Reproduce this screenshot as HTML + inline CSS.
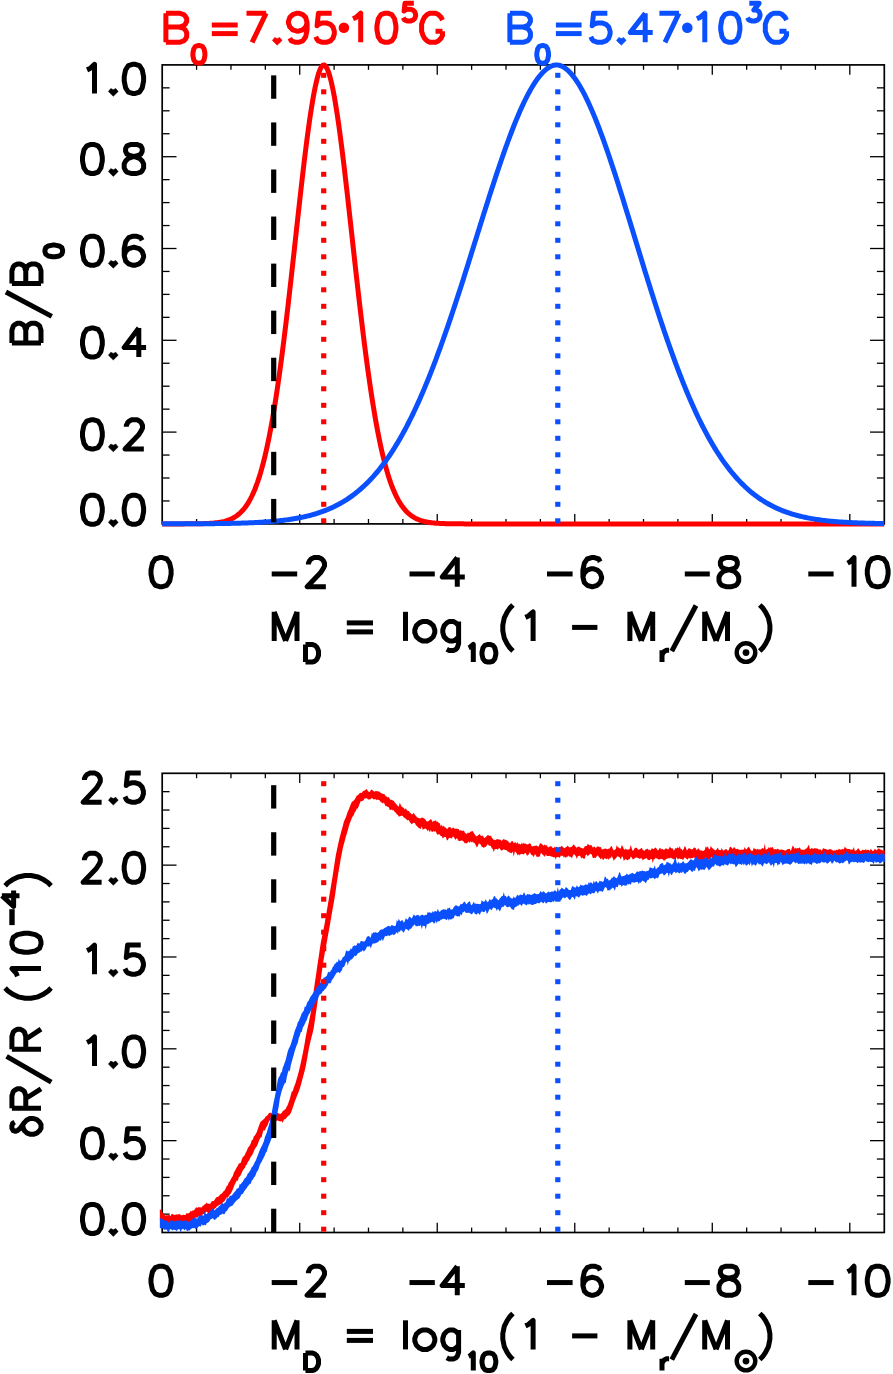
<!DOCTYPE html>
<html><head><meta charset="utf-8"><title>plot</title>
<style>
html,body{margin:0;padding:0;background:#fff;}
svg{display:block;}
</style></head>
<body>
<svg width="893" height="1374" viewBox="0 0 893 1374">
<rect x="0" y="0" width="893" height="1374" fill="#fff"/>
<clipPath id="ct"><rect x="159.2" y="61.400000000000006" width="725.8999999999999" height="466.0"/></clipPath>
<clipPath id="cb"><rect x="159.2" y="773.3" width="725.8999999999999" height="462.20000000000005"/></clipPath>
<rect x="162.2" y="64.9" width="722.0999999999999" height="459.0" fill="none" stroke="#000" stroke-width="1.7"/>
<line x1="196.58" y1="523.90" x2="196.58" y2="519.00" stroke="#000000" stroke-width="1.3" />
<line x1="196.58" y1="64.90" x2="196.58" y2="69.80" stroke="#000000" stroke-width="1.3" />
<line x1="230.96" y1="523.90" x2="230.96" y2="519.00" stroke="#000000" stroke-width="1.3" />
<line x1="230.96" y1="64.90" x2="230.96" y2="69.80" stroke="#000000" stroke-width="1.3" />
<line x1="265.34" y1="523.90" x2="265.34" y2="519.00" stroke="#000000" stroke-width="1.3" />
<line x1="265.34" y1="64.90" x2="265.34" y2="69.80" stroke="#000000" stroke-width="1.3" />
<line x1="299.72" y1="523.90" x2="299.72" y2="514.10" stroke="#000000" stroke-width="1.3" />
<line x1="299.72" y1="64.90" x2="299.72" y2="74.70" stroke="#000000" stroke-width="1.3" />
<line x1="334.10" y1="523.90" x2="334.10" y2="519.00" stroke="#000000" stroke-width="1.3" />
<line x1="334.10" y1="64.90" x2="334.10" y2="69.80" stroke="#000000" stroke-width="1.3" />
<line x1="368.48" y1="523.90" x2="368.48" y2="519.00" stroke="#000000" stroke-width="1.3" />
<line x1="368.48" y1="64.90" x2="368.48" y2="69.80" stroke="#000000" stroke-width="1.3" />
<line x1="402.86" y1="523.90" x2="402.86" y2="519.00" stroke="#000000" stroke-width="1.3" />
<line x1="402.86" y1="64.90" x2="402.86" y2="69.80" stroke="#000000" stroke-width="1.3" />
<line x1="437.24" y1="523.90" x2="437.24" y2="514.10" stroke="#000000" stroke-width="1.3" />
<line x1="437.24" y1="64.90" x2="437.24" y2="74.70" stroke="#000000" stroke-width="1.3" />
<line x1="471.62" y1="523.90" x2="471.62" y2="519.00" stroke="#000000" stroke-width="1.3" />
<line x1="471.62" y1="64.90" x2="471.62" y2="69.80" stroke="#000000" stroke-width="1.3" />
<line x1="506.00" y1="523.90" x2="506.00" y2="519.00" stroke="#000000" stroke-width="1.3" />
<line x1="506.00" y1="64.90" x2="506.00" y2="69.80" stroke="#000000" stroke-width="1.3" />
<line x1="540.38" y1="523.90" x2="540.38" y2="519.00" stroke="#000000" stroke-width="1.3" />
<line x1="540.38" y1="64.90" x2="540.38" y2="69.80" stroke="#000000" stroke-width="1.3" />
<line x1="574.76" y1="523.90" x2="574.76" y2="514.10" stroke="#000000" stroke-width="1.3" />
<line x1="574.76" y1="64.90" x2="574.76" y2="74.70" stroke="#000000" stroke-width="1.3" />
<line x1="609.14" y1="523.90" x2="609.14" y2="519.00" stroke="#000000" stroke-width="1.3" />
<line x1="609.14" y1="64.90" x2="609.14" y2="69.80" stroke="#000000" stroke-width="1.3" />
<line x1="643.52" y1="523.90" x2="643.52" y2="519.00" stroke="#000000" stroke-width="1.3" />
<line x1="643.52" y1="64.90" x2="643.52" y2="69.80" stroke="#000000" stroke-width="1.3" />
<line x1="677.90" y1="523.90" x2="677.90" y2="519.00" stroke="#000000" stroke-width="1.3" />
<line x1="677.90" y1="64.90" x2="677.90" y2="69.80" stroke="#000000" stroke-width="1.3" />
<line x1="712.28" y1="523.90" x2="712.28" y2="514.10" stroke="#000000" stroke-width="1.3" />
<line x1="712.28" y1="64.90" x2="712.28" y2="74.70" stroke="#000000" stroke-width="1.3" />
<line x1="746.66" y1="523.90" x2="746.66" y2="519.00" stroke="#000000" stroke-width="1.3" />
<line x1="746.66" y1="64.90" x2="746.66" y2="69.80" stroke="#000000" stroke-width="1.3" />
<line x1="781.04" y1="523.90" x2="781.04" y2="519.00" stroke="#000000" stroke-width="1.3" />
<line x1="781.04" y1="64.90" x2="781.04" y2="69.80" stroke="#000000" stroke-width="1.3" />
<line x1="815.42" y1="523.90" x2="815.42" y2="519.00" stroke="#000000" stroke-width="1.3" />
<line x1="815.42" y1="64.90" x2="815.42" y2="69.80" stroke="#000000" stroke-width="1.3" />
<line x1="849.80" y1="523.90" x2="849.80" y2="514.10" stroke="#000000" stroke-width="1.3" />
<line x1="849.80" y1="64.90" x2="849.80" y2="74.70" stroke="#000000" stroke-width="1.3" />
<line x1="162.20" y1="500.95" x2="169.60" y2="500.95" stroke="#000000" stroke-width="1.3" />
<line x1="884.30" y1="500.95" x2="876.90" y2="500.95" stroke="#000000" stroke-width="1.3" />
<line x1="162.20" y1="478.00" x2="169.60" y2="478.00" stroke="#000000" stroke-width="1.3" />
<line x1="884.30" y1="478.00" x2="876.90" y2="478.00" stroke="#000000" stroke-width="1.3" />
<line x1="162.20" y1="455.05" x2="169.60" y2="455.05" stroke="#000000" stroke-width="1.3" />
<line x1="884.30" y1="455.05" x2="876.90" y2="455.05" stroke="#000000" stroke-width="1.3" />
<line x1="162.20" y1="432.10" x2="176.50" y2="432.10" stroke="#000000" stroke-width="1.3" />
<line x1="884.30" y1="432.10" x2="870.00" y2="432.10" stroke="#000000" stroke-width="1.3" />
<line x1="162.20" y1="409.15" x2="169.60" y2="409.15" stroke="#000000" stroke-width="1.3" />
<line x1="884.30" y1="409.15" x2="876.90" y2="409.15" stroke="#000000" stroke-width="1.3" />
<line x1="162.20" y1="386.20" x2="169.60" y2="386.20" stroke="#000000" stroke-width="1.3" />
<line x1="884.30" y1="386.20" x2="876.90" y2="386.20" stroke="#000000" stroke-width="1.3" />
<line x1="162.20" y1="363.25" x2="169.60" y2="363.25" stroke="#000000" stroke-width="1.3" />
<line x1="884.30" y1="363.25" x2="876.90" y2="363.25" stroke="#000000" stroke-width="1.3" />
<line x1="162.20" y1="340.30" x2="176.50" y2="340.30" stroke="#000000" stroke-width="1.3" />
<line x1="884.30" y1="340.30" x2="870.00" y2="340.30" stroke="#000000" stroke-width="1.3" />
<line x1="162.20" y1="317.35" x2="169.60" y2="317.35" stroke="#000000" stroke-width="1.3" />
<line x1="884.30" y1="317.35" x2="876.90" y2="317.35" stroke="#000000" stroke-width="1.3" />
<line x1="162.20" y1="294.40" x2="169.60" y2="294.40" stroke="#000000" stroke-width="1.3" />
<line x1="884.30" y1="294.40" x2="876.90" y2="294.40" stroke="#000000" stroke-width="1.3" />
<line x1="162.20" y1="271.45" x2="169.60" y2="271.45" stroke="#000000" stroke-width="1.3" />
<line x1="884.30" y1="271.45" x2="876.90" y2="271.45" stroke="#000000" stroke-width="1.3" />
<line x1="162.20" y1="248.50" x2="176.50" y2="248.50" stroke="#000000" stroke-width="1.3" />
<line x1="884.30" y1="248.50" x2="870.00" y2="248.50" stroke="#000000" stroke-width="1.3" />
<line x1="162.20" y1="225.55" x2="169.60" y2="225.55" stroke="#000000" stroke-width="1.3" />
<line x1="884.30" y1="225.55" x2="876.90" y2="225.55" stroke="#000000" stroke-width="1.3" />
<line x1="162.20" y1="202.60" x2="169.60" y2="202.60" stroke="#000000" stroke-width="1.3" />
<line x1="884.30" y1="202.60" x2="876.90" y2="202.60" stroke="#000000" stroke-width="1.3" />
<line x1="162.20" y1="179.65" x2="169.60" y2="179.65" stroke="#000000" stroke-width="1.3" />
<line x1="884.30" y1="179.65" x2="876.90" y2="179.65" stroke="#000000" stroke-width="1.3" />
<line x1="162.20" y1="156.70" x2="176.50" y2="156.70" stroke="#000000" stroke-width="1.3" />
<line x1="884.30" y1="156.70" x2="870.00" y2="156.70" stroke="#000000" stroke-width="1.3" />
<line x1="162.20" y1="133.75" x2="169.60" y2="133.75" stroke="#000000" stroke-width="1.3" />
<line x1="884.30" y1="133.75" x2="876.90" y2="133.75" stroke="#000000" stroke-width="1.3" />
<line x1="162.20" y1="110.80" x2="169.60" y2="110.80" stroke="#000000" stroke-width="1.3" />
<line x1="884.30" y1="110.80" x2="876.90" y2="110.80" stroke="#000000" stroke-width="1.3" />
<line x1="162.20" y1="87.85" x2="169.60" y2="87.85" stroke="#000000" stroke-width="1.3" />
<line x1="884.30" y1="87.85" x2="876.90" y2="87.85" stroke="#000000" stroke-width="1.3" />
<polyline clip-path="url(#ct)" points="162.20,523.90 163.65,523.90 165.09,523.90 166.54,523.90 167.99,523.90 169.43,523.90 170.88,523.90 172.33,523.90 173.77,523.89 175.22,523.89 176.67,523.89 178.12,523.89 179.56,523.89 181.01,523.88 182.46,523.88 183.90,523.88 185.35,523.87 186.80,523.87 188.24,523.86 189.69,523.85 191.14,523.84 192.58,523.83 194.03,523.82 195.48,523.80 196.92,523.78 198.37,523.76 199.82,523.73 201.27,523.69 202.71,523.66 204.16,523.61 205.61,523.56 207.05,523.50 208.50,523.42 209.95,523.34 211.39,523.24 212.84,523.13 214.29,523.00 215.73,522.84 217.18,522.67 218.63,522.47 220.07,522.24 221.52,521.97 222.97,521.67 224.41,521.32 225.86,520.93 227.31,520.48 228.76,519.97 230.20,519.39 231.65,518.74 233.10,518.01 234.54,517.18 235.99,516.25 237.44,515.22 238.88,514.06 240.33,512.76 241.78,511.33 243.22,509.73 244.67,507.96 246.12,506.00 247.56,503.84 249.01,501.46 250.46,498.86 251.90,496.00 253.35,492.87 254.80,489.47 256.25,485.76 257.69,481.74 259.14,477.38 260.59,472.68 262.03,467.60 263.48,462.15 264.93,456.31 266.37,450.05 267.82,443.38 269.27,436.28 270.71,428.75 272.16,420.77 273.61,412.35 275.05,403.48 276.50,394.17 277.95,384.42 279.40,374.25 280.84,363.66 282.29,352.66 283.74,341.29 285.18,329.57 286.63,317.51 288.08,305.17 289.52,292.57 290.97,279.75 292.42,266.76 293.86,253.65 295.31,240.47 296.76,227.29 298.20,214.15 299.65,201.13 301.10,188.28 302.54,175.69 303.99,163.41 305.44,151.52 306.89,140.10 308.33,129.21 309.78,118.93 311.23,109.32 312.67,100.48 314.12,92.45 315.57,85.31 317.01,79.13 318.46,73.96 319.91,69.88 321.35,66.96 322.80,65.27 324.25,64.99 325.69,66.18 327.14,68.64 328.59,72.27 330.04,76.99 331.48,82.74 332.93,89.46 334.38,97.08 335.82,105.55 337.27,114.78 338.72,124.71 340.16,135.28 341.61,146.41 343.06,158.02 344.50,170.05 345.95,182.43 347.40,195.08 348.84,207.95 350.29,220.95 351.74,234.04 353.18,247.14 354.63,260.20 356.08,273.17 357.53,286.00 358.97,298.63 360.42,311.04 361.87,323.17 363.31,335.00 364.76,346.49 366.21,357.62 367.65,368.37 369.10,378.71 370.55,388.64 371.99,398.14 373.44,407.21 374.89,415.83 376.33,424.02 377.78,431.77 379.23,439.09 380.67,445.98 382.12,452.45 383.57,458.51 385.02,464.17 386.46,469.45 387.91,474.36 389.36,478.91 390.80,483.12 392.25,487.01 393.70,490.60 395.14,493.89 396.59,496.91 398.04,499.67 399.48,502.19 400.93,504.49 402.38,506.57 403.82,508.46 405.27,510.17 406.72,511.72 408.17,513.11 409.61,514.36 411.06,515.48 412.51,516.48 413.95,517.38 415.40,518.18 416.85,518.89 418.29,519.52 419.74,520.08 421.19,520.57 422.63,521.00 424.08,521.39 425.53,521.72 426.97,522.02 428.42,522.28 429.87,522.50 431.31,522.70 432.76,522.87 434.21,523.02 435.66,523.14 437.10,523.25 438.55,523.35 440.00,523.43 441.44,523.50 442.89,523.56 444.34,523.62 445.78,523.66 447.23,523.70 448.68,523.73 450.12,523.76 451.57,523.78 453.02,523.80 454.46,523.82 455.91,523.83 457.36,523.84 458.81,523.85 460.25,523.86 461.70,523.87 463.15,523.87 464.59,523.88 466.04,523.88 467.49,523.88 468.93,523.89 470.38,523.89 471.83,523.89 473.27,523.89 474.72,523.89 476.17,523.90 477.61,523.90 479.06,523.90 480.51,523.90 481.95,523.90 483.40,523.90 484.85,523.90 486.30,523.90 487.74,523.90 489.19,523.90 490.64,523.90 492.08,523.90 493.53,523.90 494.98,523.90 496.42,523.90 497.87,523.90 499.32,523.90 500.76,523.90 502.21,523.90 503.66,523.90 505.10,523.90 506.55,523.90 508.00,523.90 509.44,523.90 510.89,523.90 512.34,523.90 513.79,523.90 515.23,523.90 516.68,523.90 518.13,523.90 519.57,523.90 521.02,523.90 522.47,523.90 523.91,523.90 525.36,523.90 526.81,523.90 528.25,523.90 529.70,523.90 531.15,523.90 532.59,523.90 534.04,523.90 535.49,523.90 536.94,523.90 538.38,523.90 539.83,523.90 541.28,523.90 542.72,523.90 544.17,523.90 545.62,523.90 547.06,523.90 548.51,523.90 549.96,523.90 551.40,523.90 552.85,523.90 554.30,523.90 555.74,523.90 557.19,523.90 558.64,523.90 560.08,523.90 561.53,523.90 562.98,523.90 564.43,523.90 565.87,523.90 567.32,523.90 568.77,523.90 570.21,523.90 571.66,523.90 573.11,523.90 574.55,523.90 576.00,523.90 577.45,523.90 578.89,523.90 580.34,523.90 581.79,523.90 583.23,523.90 584.68,523.90 586.13,523.90 587.57,523.90 589.02,523.90 590.47,523.90 591.92,523.90 593.36,523.90 594.81,523.90 596.26,523.90 597.70,523.90 599.15,523.90 600.60,523.90 602.04,523.90 603.49,523.90 604.94,523.90 606.38,523.90 607.83,523.90 609.28,523.90 610.72,523.90 612.17,523.90 613.62,523.90 615.07,523.90 616.51,523.90 617.96,523.90 619.41,523.90 620.85,523.90 622.30,523.90 623.75,523.90 625.19,523.90 626.64,523.90 628.09,523.90 629.53,523.90 630.98,523.90 632.43,523.90 633.87,523.90 635.32,523.90 636.77,523.90 638.21,523.90 639.66,523.90 641.11,523.90 642.56,523.90 644.00,523.90 645.45,523.90 646.90,523.90 648.34,523.90 649.79,523.90 651.24,523.90 652.68,523.90 654.13,523.90 655.58,523.90 657.02,523.90 658.47,523.90 659.92,523.90 661.36,523.90 662.81,523.90 664.26,523.90 665.71,523.90 667.15,523.90 668.60,523.90 670.05,523.90 671.49,523.90 672.94,523.90 674.39,523.90 675.83,523.90 677.28,523.90 678.73,523.90 680.17,523.90 681.62,523.90 683.07,523.90 684.51,523.90 685.96,523.90 687.41,523.90 688.85,523.90 690.30,523.90 691.75,523.90 693.20,523.90 694.64,523.90 696.09,523.90 697.54,523.90 698.98,523.90 700.43,523.90 701.88,523.90 703.32,523.90 704.77,523.90 706.22,523.90 707.66,523.90 709.11,523.90 710.56,523.90 712.00,523.90 713.45,523.90 714.90,523.90 716.34,523.90 717.79,523.90 719.24,523.90 720.69,523.90 722.13,523.90 723.58,523.90 725.03,523.90 726.47,523.90 727.92,523.90 729.37,523.90 730.81,523.90 732.26,523.90 733.71,523.90 735.15,523.90 736.60,523.90 738.05,523.90 739.49,523.90 740.94,523.90 742.39,523.90 743.84,523.90 745.28,523.90 746.73,523.90 748.18,523.90 749.62,523.90 751.07,523.90 752.52,523.90 753.96,523.90 755.41,523.90 756.86,523.90 758.30,523.90 759.75,523.90 761.20,523.90 762.64,523.90 764.09,523.90 765.54,523.90 766.98,523.90 768.43,523.90 769.88,523.90 771.33,523.90 772.77,523.90 774.22,523.90 775.67,523.90 777.11,523.90 778.56,523.90 780.01,523.90 781.45,523.90 782.90,523.90 784.35,523.90 785.79,523.90 787.24,523.90 788.69,523.90 790.13,523.90 791.58,523.90 793.03,523.90 794.48,523.90 795.92,523.90 797.37,523.90 798.82,523.90 800.26,523.90 801.71,523.90 803.16,523.90 804.60,523.90 806.05,523.90 807.50,523.90 808.94,523.90 810.39,523.90 811.84,523.90 813.28,523.90 814.73,523.90 816.18,523.90 817.62,523.90 819.07,523.90 820.52,523.90 821.97,523.90 823.41,523.90 824.86,523.90 826.31,523.90 827.75,523.90 829.20,523.90 830.65,523.90 832.09,523.90 833.54,523.90 834.99,523.90 836.43,523.90 837.88,523.90 839.33,523.90 840.77,523.90 842.22,523.90 843.67,523.90 845.11,523.90 846.56,523.90 848.01,523.90 849.46,523.90 850.90,523.90 852.35,523.90 853.80,523.90 855.24,523.90 856.69,523.90 858.14,523.90 859.58,523.90 861.03,523.90 862.48,523.90 863.92,523.90 865.37,523.90 866.82,523.90 868.26,523.90 869.71,523.90 871.16,523.90 872.61,523.90 874.05,523.90 875.50,523.90 876.95,523.90 878.39,523.90 879.84,523.90 881.29,523.90 882.73,523.90 884.18,523.90" fill="none" stroke="#ff0000" stroke-width="5" stroke-linejoin="round"/>
<polyline clip-path="url(#ct)" points="162.20,523.87 163.65,523.87 165.09,523.87 166.54,523.87 167.99,523.86 169.43,523.86 170.88,523.86 172.33,523.86 173.77,523.85 175.22,523.85 176.67,523.85 178.12,523.84 179.56,523.84 181.01,523.84 182.46,523.83 183.90,523.83 185.35,523.82 186.80,523.82 188.24,523.81 189.69,523.81 191.14,523.80 192.58,523.79 194.03,523.79 195.48,523.78 196.92,523.77 198.37,523.76 199.82,523.75 201.27,523.74 202.71,523.73 204.16,523.72 205.61,523.71 207.05,523.70 208.50,523.69 209.95,523.67 211.39,523.66 212.84,523.65 214.29,523.63 215.73,523.61 217.18,523.60 218.63,523.58 220.07,523.56 221.52,523.54 222.97,523.52 224.41,523.49 225.86,523.47 227.31,523.44 228.76,523.42 230.20,523.39 231.65,523.36 233.10,523.32 234.54,523.29 235.99,523.26 237.44,523.22 238.88,523.18 240.33,523.14 241.78,523.09 243.22,523.05 244.67,523.00 246.12,522.95 247.56,522.90 249.01,522.84 250.46,522.78 251.90,522.72 253.35,522.65 254.80,522.59 256.25,522.51 257.69,522.44 259.14,522.36 260.59,522.28 262.03,522.19 263.48,522.10 264.93,522.00 266.37,521.90 267.82,521.80 269.27,521.69 270.71,521.57 272.16,521.45 273.61,521.32 275.05,521.19 276.50,521.05 277.95,520.90 279.40,520.75 280.84,520.59 282.29,520.43 283.74,520.25 285.18,520.07 286.63,519.88 288.08,519.68 289.52,519.48 290.97,519.26 292.42,519.04 293.86,518.80 295.31,518.55 296.76,518.30 298.20,518.03 299.65,517.75 301.10,517.46 302.54,517.16 303.99,516.85 305.44,516.52 306.89,516.18 308.33,515.83 309.78,515.46 311.23,515.08 312.67,514.68 314.12,514.26 315.57,513.83 317.01,513.39 318.46,512.92 319.91,512.44 321.35,511.94 322.80,511.42 324.25,510.88 325.69,510.32 327.14,509.74 328.59,509.14 330.04,508.52 331.48,507.87 332.93,507.20 334.38,506.51 335.82,505.79 337.27,505.05 338.72,504.29 340.16,503.49 341.61,502.67 343.06,501.82 344.50,500.95 345.95,500.04 347.40,499.10 348.84,498.14 350.29,497.14 351.74,496.11 353.18,495.05 354.63,493.95 356.08,492.82 357.53,491.65 358.97,490.45 360.42,489.22 361.87,487.94 363.31,486.63 364.76,485.28 366.21,483.89 367.65,482.46 369.10,480.99 370.55,479.48 371.99,477.92 373.44,476.32 374.89,474.68 376.33,473.00 377.78,471.27 379.23,469.49 380.67,467.67 382.12,465.80 383.57,463.88 385.02,461.92 386.46,459.91 387.91,457.84 389.36,455.73 390.80,453.57 392.25,451.35 393.70,449.09 395.14,446.77 396.59,444.40 398.04,441.98 399.48,439.50 400.93,436.98 402.38,434.39 403.82,431.76 405.27,429.07 406.72,426.32 408.17,423.52 409.61,420.67 411.06,417.76 412.51,414.79 413.95,411.77 415.40,408.70 416.85,405.57 418.29,402.39 419.74,399.15 421.19,395.86 422.63,392.51 424.08,389.11 425.53,385.65 426.97,382.15 428.42,378.59 429.87,374.97 431.31,371.31 432.76,367.60 434.21,363.83 435.66,360.02 437.10,356.15 438.55,352.24 440.00,348.29 441.44,344.28 442.89,340.24 444.34,336.15 445.78,332.01 447.23,327.84 448.68,323.63 450.12,319.37 451.57,315.08 453.02,310.76 454.46,306.40 455.91,302.01 457.36,297.59 458.81,293.14 460.25,288.66 461.70,284.16 463.15,279.64 464.59,275.09 466.04,270.53 467.49,265.95 468.93,261.35 470.38,256.74 471.83,252.12 473.27,247.50 474.72,242.87 476.17,238.24 477.61,233.60 479.06,228.97 480.51,224.35 481.95,219.73 483.40,215.12 484.85,210.53 486.30,205.95 487.74,201.39 489.19,196.85 490.64,192.34 492.08,187.86 493.53,183.41 494.98,178.99 496.42,174.60 497.87,170.26 499.32,165.96 500.76,161.71 502.21,157.51 503.66,153.36 505.10,149.26 506.55,145.22 508.00,141.25 509.44,137.34 510.89,133.50 512.34,129.73 513.79,126.03 515.23,122.42 516.68,118.88 518.13,115.43 519.57,112.06 521.02,108.79 522.47,105.61 523.91,102.52 525.36,99.53 526.81,96.65 528.25,93.87 529.70,91.20 531.15,88.64 532.59,86.20 534.04,83.87 535.49,81.66 536.94,79.57 538.38,77.61 539.83,75.78 541.28,74.08 542.72,72.51 544.17,71.07 545.62,69.78 547.06,68.63 548.51,67.63 549.96,66.77 551.40,66.07 552.85,65.52 554.30,65.14 555.74,64.93 557.19,64.92 558.64,65.12 560.08,65.51 561.53,66.06 562.98,66.78 564.43,67.66 565.87,68.70 567.32,69.89 568.77,71.24 570.21,72.72 571.66,74.35 573.11,76.12 574.55,78.03 576.00,80.07 577.45,82.24 578.89,84.54 580.34,86.97 581.79,89.52 583.23,92.18 584.68,94.96 586.13,97.86 587.57,100.86 589.02,103.97 590.47,107.18 591.92,110.49 593.36,113.90 594.81,117.40 596.26,121.00 597.70,124.67 599.15,128.43 600.60,132.28 602.04,136.19 603.49,140.18 604.94,144.24 606.38,148.36 607.83,152.55 609.28,156.80 610.72,161.10 612.17,165.46 613.62,169.86 615.07,174.31 616.51,178.80 617.96,183.33 619.41,187.90 620.85,192.50 622.30,197.12 623.75,201.78 625.19,206.45 626.64,211.15 628.09,215.86 629.53,220.59 630.98,225.33 632.43,230.07 633.87,234.82 635.32,239.57 636.77,244.32 638.21,249.07 639.66,253.81 641.11,258.54 642.56,263.27 644.00,267.97 645.45,272.66 646.90,277.33 648.34,281.98 649.79,286.61 651.24,291.21 652.68,295.79 654.13,300.33 655.58,304.85 657.02,309.33 658.47,313.78 659.92,318.18 661.36,322.56 662.81,326.89 664.26,331.18 665.71,335.42 667.15,339.62 668.60,343.78 670.05,347.89 671.49,351.95 672.94,355.96 674.39,359.93 675.83,363.84 677.28,367.70 678.73,371.51 680.17,375.26 681.62,378.96 683.07,382.60 684.51,386.19 685.96,389.73 687.41,393.20 688.85,396.62 690.30,399.99 691.75,403.29 693.20,406.54 694.64,409.73 696.09,412.86 697.54,415.94 698.98,418.96 700.43,421.92 701.88,424.82 703.32,427.66 704.77,430.45 706.22,433.18 707.66,435.85 709.11,438.47 710.56,441.03 712.00,443.53 713.45,445.98 714.90,448.38 716.34,450.71 717.79,453.00 719.24,455.23 720.69,457.41 722.13,459.53 723.58,461.61 725.03,463.63 726.47,465.60 727.92,467.52 729.37,469.39 730.81,471.21 732.26,472.99 733.71,474.72 735.15,476.40 736.60,478.03 738.05,479.62 739.49,481.17 740.94,482.67 742.39,484.13 743.84,485.55 745.28,486.93 746.73,488.26 748.18,489.56 749.62,490.82 751.07,492.04 752.52,493.22 753.96,494.37 755.41,495.48 756.86,496.55 758.30,497.60 759.75,498.60 761.20,499.58 762.64,500.52 764.09,501.44 765.54,502.32 766.98,503.17 768.43,504.00 769.88,504.79 771.33,505.56 772.77,506.30 774.22,507.02 775.67,507.71 777.11,508.38 778.56,509.02 780.01,509.64 781.45,510.24 782.90,510.82 784.35,511.37 785.79,511.91 787.24,512.42 788.69,512.92 790.13,513.39 791.58,513.85 793.03,514.29 794.48,514.71 795.92,515.12 797.37,515.51 798.82,515.89 800.26,516.25 801.71,516.59 803.16,516.93 804.60,517.25 806.05,517.55 807.50,517.84 808.94,518.13 810.39,518.40 811.84,518.65 813.28,518.90 814.73,519.14 816.18,519.36 817.62,519.58 819.07,519.79 820.52,519.99 821.97,520.18 823.41,520.36 824.86,520.53 826.31,520.70 827.75,520.86 829.20,521.01 830.65,521.15 832.09,521.29 833.54,521.42 834.99,521.55 836.43,521.67 837.88,521.78 839.33,521.89 840.77,521.99 842.22,522.09 843.67,522.19 845.11,522.27 846.56,522.36 848.01,522.44 849.46,522.52 850.90,522.59 852.35,522.66 853.80,522.73 855.24,522.79 856.69,522.85 858.14,522.91 859.58,522.96 861.03,523.01 862.48,523.06 863.92,523.11 865.37,523.15 866.82,523.19 868.26,523.23 869.71,523.27 871.16,523.31 872.61,523.34 874.05,523.37 875.50,523.40 876.95,523.43 878.39,523.46 879.84,523.48 881.29,523.51 882.73,523.53 884.18,523.55" fill="none" stroke="#0a50ff" stroke-width="5" stroke-linejoin="round"/>
<line x1="273.70" y1="522.30" x2="273.70" y2="498.90" stroke="#000000" stroke-width="5.2" />
<line x1="273.70" y1="475.24" x2="273.70" y2="451.84" stroke="#000000" stroke-width="5.2" />
<line x1="273.70" y1="428.18" x2="273.70" y2="404.78" stroke="#000000" stroke-width="5.2" />
<line x1="273.70" y1="381.12" x2="273.70" y2="357.72" stroke="#000000" stroke-width="5.2" />
<line x1="273.70" y1="334.06" x2="273.70" y2="310.66" stroke="#000000" stroke-width="5.2" />
<line x1="273.70" y1="287.00" x2="273.70" y2="263.60" stroke="#000000" stroke-width="5.2" />
<line x1="273.70" y1="239.94" x2="273.70" y2="216.54" stroke="#000000" stroke-width="5.2" />
<line x1="273.70" y1="192.88" x2="273.70" y2="169.48" stroke="#000000" stroke-width="5.2" />
<line x1="273.70" y1="145.82" x2="273.70" y2="122.42" stroke="#000000" stroke-width="5.2" />
<line x1="273.70" y1="98.76" x2="273.70" y2="75.36" stroke="#000000" stroke-width="5.2" />
<rect x="321.10" y="72.80" width="5.2" height="5" fill="#ff0000"/>
<rect x="321.10" y="89.30" width="5.2" height="5" fill="#ff0000"/>
<rect x="321.10" y="105.80" width="5.2" height="5" fill="#ff0000"/>
<rect x="321.10" y="122.30" width="5.2" height="5" fill="#ff0000"/>
<rect x="321.10" y="138.80" width="5.2" height="5" fill="#ff0000"/>
<rect x="321.10" y="155.30" width="5.2" height="5" fill="#ff0000"/>
<rect x="321.10" y="171.80" width="5.2" height="5" fill="#ff0000"/>
<rect x="321.10" y="188.30" width="5.2" height="5" fill="#ff0000"/>
<rect x="321.10" y="204.80" width="5.2" height="5" fill="#ff0000"/>
<rect x="321.10" y="221.30" width="5.2" height="5" fill="#ff0000"/>
<rect x="321.10" y="237.80" width="5.2" height="5" fill="#ff0000"/>
<rect x="321.10" y="254.30" width="5.2" height="5" fill="#ff0000"/>
<rect x="321.10" y="270.80" width="5.2" height="5" fill="#ff0000"/>
<rect x="321.10" y="287.30" width="5.2" height="5" fill="#ff0000"/>
<rect x="321.10" y="303.80" width="5.2" height="5" fill="#ff0000"/>
<rect x="321.10" y="320.30" width="5.2" height="5" fill="#ff0000"/>
<rect x="321.10" y="336.80" width="5.2" height="5" fill="#ff0000"/>
<rect x="321.10" y="353.30" width="5.2" height="5" fill="#ff0000"/>
<rect x="321.10" y="369.80" width="5.2" height="5" fill="#ff0000"/>
<rect x="321.10" y="386.30" width="5.2" height="5" fill="#ff0000"/>
<rect x="321.10" y="402.80" width="5.2" height="5" fill="#ff0000"/>
<rect x="321.10" y="419.30" width="5.2" height="5" fill="#ff0000"/>
<rect x="321.10" y="435.80" width="5.2" height="5" fill="#ff0000"/>
<rect x="321.10" y="452.30" width="5.2" height="5" fill="#ff0000"/>
<rect x="321.10" y="468.80" width="5.2" height="5" fill="#ff0000"/>
<rect x="321.10" y="485.30" width="5.2" height="5" fill="#ff0000"/>
<rect x="321.10" y="501.80" width="5.2" height="5" fill="#ff0000"/>
<rect x="321.10" y="518.30" width="5.2" height="5" fill="#ff0000"/>
<rect x="555.20" y="72.80" width="5.2" height="5" fill="#0a50ff"/>
<rect x="555.20" y="89.30" width="5.2" height="5" fill="#0a50ff"/>
<rect x="555.20" y="105.80" width="5.2" height="5" fill="#0a50ff"/>
<rect x="555.20" y="122.30" width="5.2" height="5" fill="#0a50ff"/>
<rect x="555.20" y="138.80" width="5.2" height="5" fill="#0a50ff"/>
<rect x="555.20" y="155.30" width="5.2" height="5" fill="#0a50ff"/>
<rect x="555.20" y="171.80" width="5.2" height="5" fill="#0a50ff"/>
<rect x="555.20" y="188.30" width="5.2" height="5" fill="#0a50ff"/>
<rect x="555.20" y="204.80" width="5.2" height="5" fill="#0a50ff"/>
<rect x="555.20" y="221.30" width="5.2" height="5" fill="#0a50ff"/>
<rect x="555.20" y="237.80" width="5.2" height="5" fill="#0a50ff"/>
<rect x="555.20" y="254.30" width="5.2" height="5" fill="#0a50ff"/>
<rect x="555.20" y="270.80" width="5.2" height="5" fill="#0a50ff"/>
<rect x="555.20" y="287.30" width="5.2" height="5" fill="#0a50ff"/>
<rect x="555.20" y="303.80" width="5.2" height="5" fill="#0a50ff"/>
<rect x="555.20" y="320.30" width="5.2" height="5" fill="#0a50ff"/>
<rect x="555.20" y="336.80" width="5.2" height="5" fill="#0a50ff"/>
<rect x="555.20" y="353.30" width="5.2" height="5" fill="#0a50ff"/>
<rect x="555.20" y="369.80" width="5.2" height="5" fill="#0a50ff"/>
<rect x="555.20" y="386.30" width="5.2" height="5" fill="#0a50ff"/>
<rect x="555.20" y="402.80" width="5.2" height="5" fill="#0a50ff"/>
<rect x="555.20" y="419.30" width="5.2" height="5" fill="#0a50ff"/>
<rect x="555.20" y="435.80" width="5.2" height="5" fill="#0a50ff"/>
<rect x="555.20" y="452.30" width="5.2" height="5" fill="#0a50ff"/>
<rect x="555.20" y="468.80" width="5.2" height="5" fill="#0a50ff"/>
<rect x="555.20" y="485.30" width="5.2" height="5" fill="#0a50ff"/>
<rect x="555.20" y="501.80" width="5.2" height="5" fill="#0a50ff"/>
<rect x="555.20" y="518.30" width="5.2" height="5" fill="#0a50ff"/>
<path d="M87.05,69.86 L90.03,68.47 L94.50,64.31 L94.50,93.40" fill="none" stroke="#000000" stroke-width="5.0" stroke-linejoin="round"/>
<path d="M113.30,96.30 L108.40,91.50 L110.80,88.50 L113.30,89.70 L115.80,88.50 L118.20,91.50 Z" fill="#000000" stroke="#000000" stroke-width="0.5" stroke-linejoin="round"/>
<path d="M132.51,64.31 L128.36,65.70 L125.59,69.86 L124.20,76.78 L124.20,80.94 L125.59,87.86 L128.36,92.02 L132.51,93.40 L135.29,93.40 L139.44,92.02 L142.21,87.86 L143.60,80.94 L143.60,76.78 L142.21,69.86 L139.44,65.70 L135.29,64.31 Z" fill="none" stroke="#000000" stroke-width="5.0" stroke-linejoin="round"/>
<path d="M90.99,144.41 L86.74,145.80 L83.91,149.95 L82.50,156.88 L82.50,161.03 L83.91,167.96 L86.74,172.11 L90.99,173.50 L93.81,173.50 L98.06,172.11 L100.89,167.96 L102.30,161.03 L102.30,156.88 L100.89,149.95 L98.06,145.80 L93.81,144.41 Z" fill="none" stroke="#000000" stroke-width="5.0" stroke-linejoin="round"/>
<path d="M113.30,176.40 L108.40,171.60 L110.80,168.60 L113.30,169.80 L115.80,168.60 L118.20,171.60 Z" fill="#000000" stroke="#000000" stroke-width="0.5" stroke-linejoin="round"/>
<path d="M131.13,144.41 L126.97,145.80 L125.59,148.57 L125.59,151.34 L126.97,154.11 L129.74,155.49 L135.29,156.88 L139.44,158.26 L142.21,161.03 L143.60,163.80 L143.60,167.96 L142.21,170.73 L140.83,172.11 L136.67,173.50 L131.13,173.50 L126.97,172.11 L125.59,170.73 L124.20,167.96 L124.20,163.80 L125.59,161.03 L128.36,158.26 L132.51,156.88 L138.06,155.49 L140.83,154.11 L142.21,151.34 L142.21,148.57 L140.83,145.80 L136.67,144.41 Z" fill="none" stroke="#000000" stroke-width="5.0" stroke-linejoin="round"/>
<path d="M90.99,236.22 L86.74,237.60 L83.91,241.75 L82.50,248.68 L82.50,252.84 L83.91,259.76 L86.74,263.92 L90.99,265.30 L93.81,265.30 L98.06,263.92 L100.89,259.76 L102.30,252.84 L102.30,248.68 L100.89,241.75 L98.06,237.60 L93.81,236.22 Z" fill="none" stroke="#000000" stroke-width="5.0" stroke-linejoin="round"/>
<path d="M113.30,268.20 L108.40,263.40 L110.80,260.40 L113.30,261.60 L115.80,260.40 L118.20,263.40 Z" fill="#000000" stroke="#000000" stroke-width="0.5" stroke-linejoin="round"/>
<path d="M142.11,240.37 L140.62,237.60 L136.14,236.22 L133.15,236.22 L128.68,237.60 L125.69,241.75 L124.20,248.68 L124.20,255.61 L125.69,261.15 L128.68,263.92 L133.15,265.30 L134.65,265.30 L139.12,263.92 L142.11,261.15 L143.60,256.99 L143.60,255.61 L142.11,251.45 L139.12,248.68 L134.65,247.30 L133.15,247.30 L128.68,248.68 L125.69,251.45 L124.20,255.61" fill="none" stroke="#000000" stroke-width="5.0" stroke-linejoin="round"/>
<path d="M90.99,328.01 L86.74,329.40 L83.91,333.55 L82.50,340.48 L82.50,344.63 L83.91,351.56 L86.74,355.71 L90.99,357.10 L93.81,357.10 L98.06,355.71 L100.89,351.56 L102.30,344.63 L102.30,340.48 L100.89,333.55 L98.06,329.40 L93.81,328.01 Z" fill="none" stroke="#000000" stroke-width="5.0" stroke-linejoin="round"/>
<path d="M113.30,360.00 L108.40,355.20 L110.80,352.20 L113.30,353.40 L115.80,352.20 L118.20,355.20 Z" fill="#000000" stroke="#000000" stroke-width="0.5" stroke-linejoin="round"/>
<path d="M138.80,328.01 L124.20,347.40 L146.10,347.40 M138.80,328.01 L138.80,357.10" fill="none" stroke="#000000" stroke-width="5.0" stroke-linejoin="round"/>
<path d="M90.99,419.81 L86.74,421.20 L83.91,425.35 L82.50,432.28 L82.50,436.44 L83.91,443.36 L86.74,447.51 L90.99,448.90 L93.81,448.90 L98.06,447.51 L100.89,443.36 L102.30,436.44 L102.30,432.28 L100.89,425.35 L98.06,421.20 L93.81,419.81 Z" fill="none" stroke="#000000" stroke-width="5.0" stroke-linejoin="round"/>
<path d="M113.30,451.80 L108.40,447.00 L110.80,444.00 L113.30,445.20 L115.80,444.00 L118.20,447.00 Z" fill="#000000" stroke="#000000" stroke-width="0.5" stroke-linejoin="round"/>
<path d="M126.35,426.74 L126.35,425.35 L127.69,422.58 L129.04,421.20 L131.73,419.81 L137.12,419.81 L139.81,421.20 L141.15,422.58 L142.50,425.35 L142.50,428.12 L141.15,430.89 L138.46,435.05 L125.00,448.90 L143.85,448.90" fill="none" stroke="#000000" stroke-width="5.0" stroke-linejoin="round"/>
<path d="M90.99,495.21 L86.74,496.60 L83.91,500.75 L82.50,507.68 L82.50,511.83 L83.91,518.76 L86.74,522.91 L90.99,524.30 L93.81,524.30 L98.06,522.91 L100.89,518.76 L102.30,511.83 L102.30,507.68 L100.89,500.75 L98.06,496.60 L93.81,495.21 Z" fill="none" stroke="#000000" stroke-width="5.0" stroke-linejoin="round"/>
<path d="M113.30,527.20 L108.40,522.40 L110.80,519.40 L113.30,520.60 L115.80,519.40 L118.20,522.40 Z" fill="#000000" stroke="#000000" stroke-width="0.5" stroke-linejoin="round"/>
<path d="M132.51,495.21 L128.36,496.60 L125.59,500.75 L124.20,507.68 L124.20,511.83 L125.59,518.76 L128.36,522.91 L132.51,524.30 L135.29,524.30 L139.44,522.91 L142.21,518.76 L143.60,511.83 L143.60,507.68 L142.21,500.75 L139.44,496.60 L135.29,495.21 Z" fill="none" stroke="#000000" stroke-width="5.0" stroke-linejoin="round"/>
<path d="M159.61,557.62 L155.31,559.00 L152.44,563.16 L151.00,570.08 L151.00,574.24 L152.44,581.16 L155.31,585.32 L159.61,586.70 L162.49,586.70 L166.79,585.32 L169.66,581.16 L171.10,574.24 L171.10,570.08 L169.66,563.16 L166.79,559.00 L162.49,557.62 Z" fill="none" stroke="#000000" stroke-width="5.0" stroke-linejoin="round"/>
<line x1="271.70" y1="573.96" x2="297.20" y2="573.96" stroke="#000000" stroke-width="5.0"/>
<path d="M308.44,564.54 L308.44,563.16 L309.78,560.38 L311.12,559.00 L313.79,557.62 L319.15,557.62 L321.82,559.00 L323.16,560.38 L324.50,563.16 L324.50,565.93 L323.16,568.70 L320.48,572.85 L307.10,586.70 L325.84,586.70" fill="none" stroke="#000000" stroke-width="5.0" stroke-linejoin="round"/>
<line x1="409.50" y1="573.96" x2="434.80" y2="573.96" stroke="#000000" stroke-width="5.0"/>
<path d="M457.27,557.62 L442.20,577.00 L464.80,577.00 M457.27,557.62 L457.27,586.70" fill="none" stroke="#000000" stroke-width="5.0" stroke-linejoin="round"/>
<line x1="547.00" y1="573.96" x2="572.60" y2="573.96" stroke="#000000" stroke-width="5.0"/>
<path d="M600.16,561.77 L598.72,559.00 L594.41,557.62 L591.53,557.62 L587.22,559.00 L584.34,563.16 L582.90,570.08 L582.90,577.00 L584.34,582.55 L587.22,585.32 L591.53,586.70 L592.97,586.70 L597.28,585.32 L600.16,582.55 L601.60,578.39 L601.60,577.00 L600.16,572.85 L597.28,570.08 L592.97,568.70 L591.53,568.70 L587.22,570.08 L584.34,572.85 L582.90,577.00" fill="none" stroke="#000000" stroke-width="5.0" stroke-linejoin="round"/>
<line x1="684.80" y1="573.96" x2="709.80" y2="573.96" stroke="#000000" stroke-width="5.0"/>
<path d="M726.04,557.62 L721.81,559.00 L720.41,561.77 L720.41,564.54 L721.81,567.31 L724.63,568.70 L730.26,570.08 L734.48,571.47 L737.29,574.24 L738.70,577.00 L738.70,581.16 L737.29,583.93 L735.89,585.32 L731.66,586.70 L726.04,586.70 L721.81,585.32 L720.41,583.93 L719.00,581.16 L719.00,577.00 L720.41,574.24 L723.22,571.47 L727.44,570.08 L733.07,568.70 L735.89,567.31 L737.29,564.54 L737.29,561.77 L735.89,559.00 L731.66,557.62 Z" fill="none" stroke="#000000" stroke-width="5.0" stroke-linejoin="round"/>
<line x1="808.30" y1="573.96" x2="833.60" y2="573.96" stroke="#000000" stroke-width="5.0"/>
<path d="M847.59,563.16 L850.15,561.77 L854.00,557.62 L854.00,586.70" fill="none" stroke="#000000" stroke-width="5.0" stroke-linejoin="round"/>
<path d="M876.21,557.62 L871.76,559.00 L868.79,563.16 L867.30,570.08 L867.30,574.24 L868.79,581.16 L871.76,585.32 L876.21,586.70 L879.19,586.70 L883.64,585.32 L886.61,581.16 L888.10,574.24 L888.10,570.08 L886.61,563.16 L883.64,559.00 L879.19,557.62 Z" fill="none" stroke="#000000" stroke-width="5.0" stroke-linejoin="round"/>
<path d="M274.20,611.81 L274.20,640.90 M274.20,611.81 L285.60,640.90 M297.00,611.81 L285.60,640.90 M297.00,611.81 L297.00,640.90" fill="none" stroke="#000000" stroke-width="5.0" stroke-linejoin="round"/>
<path d="M305.50,644.46 L305.50,662.10 M305.50,644.46 L312.00,644.46 L314.79,645.30 L316.64,646.98 L317.57,648.66 L318.50,651.18 L318.50,655.38 L317.57,657.90 L316.64,659.58 L314.79,661.26 L312.00,662.10 L305.50,662.10" fill="none" stroke="#000000" stroke-width="5.0" stroke-linejoin="round"/>
<line x1="346.80" y1="622.90" x2="373.00" y2="622.90" stroke="#000000" stroke-width="5.0"/>
<line x1="346.80" y1="631.90" x2="373.00" y2="631.90" stroke="#000000" stroke-width="5.0"/>
<path d="M405.50,611.81 L405.50,640.90" fill="none" stroke="#000000" stroke-width="5.0" stroke-linejoin="round"/>
<path d="M422.49,621.51 L419.42,622.89 L416.34,625.66 L414.80,629.82 L414.80,632.59 L416.34,636.75 L419.42,639.51 L422.49,640.90 L427.11,640.90 L430.18,639.51 L433.26,636.75 L434.80,632.59 L434.80,629.82 L433.26,625.66 L430.18,622.89 L427.11,621.51 Z" fill="none" stroke="#000000" stroke-width="5.0" stroke-linejoin="round"/>
<path d="M458.60,621.51 L458.60,643.67 L457.28,647.82 L455.97,649.21 L453.33,650.60 L449.38,650.60 L446.75,649.21 M458.60,625.66 L455.97,622.89 L453.33,621.51 L449.38,621.51 L446.75,622.89 L444.12,625.66 L442.80,629.82 L442.80,632.59 L444.12,636.75 L446.75,639.51 L449.38,640.90 L453.33,640.90 L455.97,639.51 L458.60,636.75" fill="none" stroke="#000000" stroke-width="5.0" stroke-linejoin="round"/>
<path d="M468.62,647.82 L470.49,646.98 L473.30,644.46 L473.30,662.10" fill="none" stroke="#000000" stroke-width="5.0" stroke-linejoin="round"/>
<path d="M487.91,644.46 L484.96,645.30 L482.99,647.82 L482.00,652.02 L482.00,654.54 L482.99,658.74 L484.96,661.26 L487.91,662.10 L489.89,662.10 L492.84,661.26 L494.81,658.74 L495.80,654.54 L495.80,652.02 L494.81,647.82 L492.84,645.30 L489.89,644.46 Z" fill="none" stroke="#000000" stroke-width="5.0" stroke-linejoin="round"/>
<path d="M512.94,605.02 L510.04,607.89 L507.15,612.20 L504.25,617.94 L502.80,625.12 L502.80,630.86 L504.25,638.03 L507.15,643.77 L510.04,648.07 L512.94,650.94" fill="none" stroke="#000000" stroke-width="5.0" stroke-linejoin="round"/>
<path d="M525.43,617.36 L528.50,615.97 L533.10,611.81 L533.10,640.90" fill="none" stroke="#000000" stroke-width="5.0" stroke-linejoin="round"/>
<line x1="572.10" y1="627.40" x2="597.40" y2="627.40" stroke="#000000" stroke-width="5.0"/>
<path d="M629.90,611.81 L629.90,640.90 M629.90,611.81 L641.30,640.90 M652.70,611.81 L641.30,640.90 M652.70,611.81 L652.70,640.90" fill="none" stroke="#000000" stroke-width="5.0" stroke-linejoin="round"/>
<path d="M662.00,650.34 L662.00,662.10 M662.00,655.38 L662.89,652.86 L664.66,651.18 L666.44,650.34 L669.10,650.34" fill="none" stroke="#000000" stroke-width="5.0" stroke-linejoin="round"/>
<line x1="671.80" y1="651.20" x2="696.00" y2="605.50" stroke="#000000" stroke-width="5.0" />
<path d="M704.70,611.81 L704.70,640.90 M704.70,611.81 L716.10,640.90 M727.50,611.81 L716.10,640.90 M727.50,611.81 L727.50,640.90" fill="none" stroke="#000000" stroke-width="5.0" stroke-linejoin="round"/>
<circle cx="746.0" cy="652.60" r="9.3" fill="none" stroke="#000" stroke-width="4.4"/>
<circle cx="746.0" cy="652.60" r="3.4" fill="#000"/>
<path d="M759.76,605.02 L762.66,607.89 L765.55,612.20 L768.45,617.94 L769.90,625.12 L769.90,630.86 L768.45,638.03 L765.55,643.77 L762.66,648.07 L759.76,650.94" fill="none" stroke="#000000" stroke-width="5.0" stroke-linejoin="round"/>
<path d="M11.91,343.00 L41.00,343.00 M11.91,343.00 L11.91,330.34 L13.30,326.11 L14.68,324.71 L17.45,323.30 L20.23,323.30 L23.00,324.71 L24.38,326.11 L25.77,330.34 M25.77,343.00 L25.77,330.34 L27.15,326.11 L28.54,324.71 L31.30,323.30 L35.46,323.30 L38.23,324.71 L39.62,326.11 L41.00,330.34 L41.00,343.00" fill="none" stroke="#000000" stroke-width="5.0" stroke-linejoin="round"/>
<line x1="5.90" y1="292.00" x2="51.80" y2="316.40" stroke="#000000" stroke-width="5.0" />
<path d="M11.91,283.40 L41.00,283.40 M11.91,283.40 L11.91,270.86 L13.30,266.69 L14.68,265.29 L17.45,263.90 L20.23,263.90 L23.00,265.29 L24.38,266.69 L25.77,270.86 M25.77,283.40 L25.77,270.86 L27.15,266.69 L28.54,265.29 L31.30,263.90 L35.46,263.90 L38.23,265.29 L39.62,266.69 L41.00,270.86 L41.00,283.40" fill="none" stroke="#000000" stroke-width="5.0" stroke-linejoin="round"/>
<path d="M44.96,251.79 L45.80,254.29 L48.32,255.96 L52.52,256.80 L55.04,256.80 L59.24,255.96 L61.76,254.29 L62.60,251.79 L62.60,250.11 L61.76,247.61 L59.24,245.94 L55.04,245.10 L52.52,245.10 L48.32,245.94 L45.80,247.61 L44.96,250.11 Z" fill="none" stroke="#000000" stroke-width="5.0" stroke-linejoin="round"/>
<path d="M165.90,13.21 L165.90,42.30 M165.90,13.21 L179.27,13.21 L183.73,14.60 L185.21,15.98 L186.70,18.75 L186.70,21.52 L185.21,24.29 L183.73,25.68 L179.27,27.06 M165.90,27.06 L179.27,27.06 L183.73,28.45 L185.21,29.83 L186.70,32.60 L186.70,36.76 L185.21,39.53 L183.73,40.91 L179.27,42.30 L165.90,42.30" fill="none" stroke="#ff0000" stroke-width="5.0" stroke-linejoin="round"/>
<path d="M198.04,45.56 L195.47,46.40 L193.76,48.92 L192.90,53.12 L192.90,55.64 L193.76,59.84 L195.47,62.36 L198.04,63.20 L199.76,63.20 L202.33,62.36 L204.04,59.84 L204.90,55.64 L204.90,53.12 L204.04,48.92 L202.33,46.40 L199.76,45.56 Z" fill="none" stroke="#ff0000" stroke-width="5.0" stroke-linejoin="round"/>
<line x1="211.80" y1="25.00" x2="237.70" y2="25.00" stroke="#ff0000" stroke-width="5.0"/>
<line x1="211.80" y1="33.60" x2="237.70" y2="33.60" stroke="#ff0000" stroke-width="5.0"/>
<path d="M266.15,13.21 L252.11,42.30 M246.50,13.21 L266.15,13.21" fill="none" stroke="#ff0000" stroke-width="5.0" stroke-linejoin="round"/>
<path d="M277.20,45.20 L272.30,40.40 L274.70,37.40 L277.20,38.60 L279.70,37.40 L282.10,40.40 Z" fill="#ff0000" stroke="#ff0000" stroke-width="0.5" stroke-linejoin="round"/>
<path d="M307.10,22.91 L305.66,27.06 L302.78,29.83 L298.47,31.22 L297.03,31.22 L292.72,29.83 L289.84,27.06 L288.40,22.91 L288.40,21.52 L289.84,17.37 L292.72,14.60 L297.03,13.21 L298.47,13.21 L302.78,14.60 L305.66,17.37 L307.10,22.91 L307.10,29.83 L305.66,36.76 L302.78,40.91 L298.47,42.30 L295.59,42.30 L291.28,40.91 L289.84,38.14" fill="none" stroke="#ff0000" stroke-width="5.0" stroke-linejoin="round"/>
<path d="M331.65,13.21 L318.40,13.21 L317.08,25.68 L318.40,24.29 L322.38,22.91 L326.35,22.91 L330.33,24.29 L332.98,27.06 L334.30,31.22 L334.30,33.99 L332.98,38.14 L330.33,40.91 L326.35,42.30 L322.38,42.30 L318.40,40.91 L317.08,39.53 L315.76,36.76" fill="none" stroke="#ff0000" stroke-width="5.0" stroke-linejoin="round"/>
<circle cx="343.9" cy="27.699999999999996" r="5.3" fill="#ff0000"/>
<path d="M353.03,18.75 L356.10,17.37 L360.70,13.21 L360.70,42.30" fill="none" stroke="#ff0000" stroke-width="5.0" stroke-linejoin="round"/>
<path d="M385.04,13.21 L380.97,14.60 L378.26,18.75 L376.90,25.68 L376.90,29.83 L378.26,36.76 L380.97,40.91 L385.04,42.30 L387.76,42.30 L391.83,40.91 L394.54,36.76 L395.90,29.83 L395.90,25.68 L394.54,18.75 L391.83,14.60 L387.76,13.21 Z" fill="none" stroke="#ff0000" stroke-width="5.0" stroke-linejoin="round"/>
<path d="M413.83,3.36 L404.98,3.36 L404.10,10.92 L404.98,10.08 L407.64,9.24 L410.29,9.24 L412.95,10.08 L414.72,11.76 L415.60,14.28 L415.60,15.96 L414.72,18.48 L412.95,20.16 L410.29,21.00 L407.64,21.00 L404.98,20.16 L404.10,19.32 L403.21,17.64" fill="none" stroke="#ff0000" stroke-width="5.0" stroke-linejoin="round"/>
<path d="M442.50,20.14 L441.11,17.37 L438.32,14.60 L435.53,13.21 L429.96,13.21 L427.17,14.60 L424.39,17.37 L422.99,20.14 L421.60,24.29 L421.60,31.22 L422.99,35.38 L424.39,38.14 L427.17,40.91 L429.96,42.30 L435.53,42.30 L438.32,40.91 L441.11,38.14 L442.50,35.38 L442.50,31.22 M435.53,31.22 L442.50,31.22" fill="none" stroke="#ff0000" stroke-width="5.0" stroke-linejoin="round"/>
<path d="M509.90,13.21 L509.90,42.30 M509.90,13.21 L523.08,13.21 L527.47,14.60 L528.94,15.98 L530.40,18.75 L530.40,21.52 L528.94,24.29 L527.47,25.68 L523.08,27.06 M509.90,27.06 L523.08,27.06 L527.47,28.45 L528.94,29.83 L530.40,32.60 L530.40,36.76 L528.94,39.53 L527.47,40.91 L523.08,42.30 L509.90,42.30" fill="none" stroke="#0a50ff" stroke-width="5.0" stroke-linejoin="round"/>
<path d="M541.81,45.56 L539.31,46.40 L537.64,48.92 L536.80,53.12 L536.80,55.64 L537.64,59.84 L539.31,62.36 L541.81,63.20 L543.49,63.20 L545.99,62.36 L547.66,59.84 L548.50,55.64 L548.50,53.12 L547.66,48.92 L545.99,46.40 L543.49,45.56 Z" fill="none" stroke="#0a50ff" stroke-width="5.0" stroke-linejoin="round"/>
<line x1="555.90" y1="25.00" x2="581.60" y2="25.00" stroke="#0a50ff" stroke-width="5.0"/>
<line x1="555.90" y1="33.60" x2="581.60" y2="33.60" stroke="#0a50ff" stroke-width="5.0"/>
<path d="M607.35,13.21 L593.59,13.21 L592.21,25.68 L593.59,24.29 L597.72,22.91 L601.85,22.91 L605.97,24.29 L608.72,27.06 L610.10,31.22 L610.10,33.99 L608.72,38.14 L605.97,40.91 L601.85,42.30 L597.72,42.30 L593.59,40.91 L592.21,39.53 L590.84,36.76" fill="none" stroke="#0a50ff" stroke-width="5.0" stroke-linejoin="round"/>
<path d="M621.30,45.20 L616.40,40.40 L618.80,37.40 L621.30,38.60 L623.80,37.40 L626.20,40.40 Z" fill="#0a50ff" stroke="#0a50ff" stroke-width="0.5" stroke-linejoin="round"/>
<path d="M645.20,13.21 L630.20,32.60 L652.70,32.60 M645.20,13.21 L645.20,42.30" fill="none" stroke="#0a50ff" stroke-width="5.0" stroke-linejoin="round"/>
<path d="M678.95,13.21 L664.98,42.30 M659.40,13.21 L678.95,13.21" fill="none" stroke="#0a50ff" stroke-width="5.0" stroke-linejoin="round"/>
<circle cx="687.3" cy="27.699999999999996" r="5.3" fill="#0a50ff"/>
<path d="M696.90,18.75 L700.06,17.37 L704.80,13.21 L704.80,42.30" fill="none" stroke="#0a50ff" stroke-width="5.0" stroke-linejoin="round"/>
<path d="M728.93,13.21 L724.81,14.60 L722.07,18.75 L720.70,25.68 L720.70,29.83 L722.07,36.76 L724.81,40.91 L728.93,42.30 L731.67,42.30 L735.79,40.91 L738.53,36.76 L739.90,29.83 L739.90,25.68 L738.53,18.75 L735.79,14.60 L731.67,13.21 Z" fill="none" stroke="#0a50ff" stroke-width="5.0" stroke-linejoin="round"/>
<path d="M749.29,3.36 L759.11,3.36 L753.75,10.08 L756.43,10.08 L758.22,10.92 L759.11,11.76 L760.00,14.28 L760.00,15.96 L759.11,18.48 L757.32,20.16 L754.65,21.00 L751.97,21.00 L749.29,20.16 L748.40,19.32 L747.51,17.64" fill="none" stroke="#0a50ff" stroke-width="5.0" stroke-linejoin="round"/>
<path d="M786.50,20.14 L785.09,17.37 L782.26,14.60 L779.43,13.21 L773.78,13.21 L770.95,14.60 L768.13,17.37 L766.71,20.14 L765.30,24.29 L765.30,31.22 L766.71,35.38 L768.13,38.14 L770.95,40.91 L773.78,42.30 L779.43,42.30 L782.26,40.91 L785.09,38.14 L786.50,35.38 L786.50,31.22 M779.43,31.22 L786.50,31.22" fill="none" stroke="#0a50ff" stroke-width="5.0" stroke-linejoin="round"/>
<rect x="162.2" y="773.3" width="722.0999999999999" height="459.20000000000005" fill="none" stroke="#000" stroke-width="1.7"/>
<line x1="196.58" y1="1232.50" x2="196.58" y2="1227.60" stroke="#000000" stroke-width="1.3" />
<line x1="196.58" y1="773.30" x2="196.58" y2="778.20" stroke="#000000" stroke-width="1.3" />
<line x1="230.96" y1="1232.50" x2="230.96" y2="1227.60" stroke="#000000" stroke-width="1.3" />
<line x1="230.96" y1="773.30" x2="230.96" y2="778.20" stroke="#000000" stroke-width="1.3" />
<line x1="265.34" y1="1232.50" x2="265.34" y2="1227.60" stroke="#000000" stroke-width="1.3" />
<line x1="265.34" y1="773.30" x2="265.34" y2="778.20" stroke="#000000" stroke-width="1.3" />
<line x1="299.72" y1="1232.50" x2="299.72" y2="1222.70" stroke="#000000" stroke-width="1.3" />
<line x1="299.72" y1="773.30" x2="299.72" y2="783.10" stroke="#000000" stroke-width="1.3" />
<line x1="334.10" y1="1232.50" x2="334.10" y2="1227.60" stroke="#000000" stroke-width="1.3" />
<line x1="334.10" y1="773.30" x2="334.10" y2="778.20" stroke="#000000" stroke-width="1.3" />
<line x1="368.48" y1="1232.50" x2="368.48" y2="1227.60" stroke="#000000" stroke-width="1.3" />
<line x1="368.48" y1="773.30" x2="368.48" y2="778.20" stroke="#000000" stroke-width="1.3" />
<line x1="402.86" y1="1232.50" x2="402.86" y2="1227.60" stroke="#000000" stroke-width="1.3" />
<line x1="402.86" y1="773.30" x2="402.86" y2="778.20" stroke="#000000" stroke-width="1.3" />
<line x1="437.24" y1="1232.50" x2="437.24" y2="1222.70" stroke="#000000" stroke-width="1.3" />
<line x1="437.24" y1="773.30" x2="437.24" y2="783.10" stroke="#000000" stroke-width="1.3" />
<line x1="471.62" y1="1232.50" x2="471.62" y2="1227.60" stroke="#000000" stroke-width="1.3" />
<line x1="471.62" y1="773.30" x2="471.62" y2="778.20" stroke="#000000" stroke-width="1.3" />
<line x1="506.00" y1="1232.50" x2="506.00" y2="1227.60" stroke="#000000" stroke-width="1.3" />
<line x1="506.00" y1="773.30" x2="506.00" y2="778.20" stroke="#000000" stroke-width="1.3" />
<line x1="540.38" y1="1232.50" x2="540.38" y2="1227.60" stroke="#000000" stroke-width="1.3" />
<line x1="540.38" y1="773.30" x2="540.38" y2="778.20" stroke="#000000" stroke-width="1.3" />
<line x1="574.76" y1="1232.50" x2="574.76" y2="1222.70" stroke="#000000" stroke-width="1.3" />
<line x1="574.76" y1="773.30" x2="574.76" y2="783.10" stroke="#000000" stroke-width="1.3" />
<line x1="609.14" y1="1232.50" x2="609.14" y2="1227.60" stroke="#000000" stroke-width="1.3" />
<line x1="609.14" y1="773.30" x2="609.14" y2="778.20" stroke="#000000" stroke-width="1.3" />
<line x1="643.52" y1="1232.50" x2="643.52" y2="1227.60" stroke="#000000" stroke-width="1.3" />
<line x1="643.52" y1="773.30" x2="643.52" y2="778.20" stroke="#000000" stroke-width="1.3" />
<line x1="677.90" y1="1232.50" x2="677.90" y2="1227.60" stroke="#000000" stroke-width="1.3" />
<line x1="677.90" y1="773.30" x2="677.90" y2="778.20" stroke="#000000" stroke-width="1.3" />
<line x1="712.28" y1="1232.50" x2="712.28" y2="1222.70" stroke="#000000" stroke-width="1.3" />
<line x1="712.28" y1="773.30" x2="712.28" y2="783.10" stroke="#000000" stroke-width="1.3" />
<line x1="746.66" y1="1232.50" x2="746.66" y2="1227.60" stroke="#000000" stroke-width="1.3" />
<line x1="746.66" y1="773.30" x2="746.66" y2="778.20" stroke="#000000" stroke-width="1.3" />
<line x1="781.04" y1="1232.50" x2="781.04" y2="1227.60" stroke="#000000" stroke-width="1.3" />
<line x1="781.04" y1="773.30" x2="781.04" y2="778.20" stroke="#000000" stroke-width="1.3" />
<line x1="815.42" y1="1232.50" x2="815.42" y2="1227.60" stroke="#000000" stroke-width="1.3" />
<line x1="815.42" y1="773.30" x2="815.42" y2="778.20" stroke="#000000" stroke-width="1.3" />
<line x1="849.80" y1="1232.50" x2="849.80" y2="1222.70" stroke="#000000" stroke-width="1.3" />
<line x1="849.80" y1="773.30" x2="849.80" y2="783.10" stroke="#000000" stroke-width="1.3" />
<line x1="162.20" y1="1214.13" x2="169.60" y2="1214.13" stroke="#000000" stroke-width="1.3" />
<line x1="884.30" y1="1214.13" x2="876.90" y2="1214.13" stroke="#000000" stroke-width="1.3" />
<line x1="162.20" y1="1195.76" x2="169.60" y2="1195.76" stroke="#000000" stroke-width="1.3" />
<line x1="884.30" y1="1195.76" x2="876.90" y2="1195.76" stroke="#000000" stroke-width="1.3" />
<line x1="162.20" y1="1177.40" x2="169.60" y2="1177.40" stroke="#000000" stroke-width="1.3" />
<line x1="884.30" y1="1177.40" x2="876.90" y2="1177.40" stroke="#000000" stroke-width="1.3" />
<line x1="162.20" y1="1159.03" x2="169.60" y2="1159.03" stroke="#000000" stroke-width="1.3" />
<line x1="884.30" y1="1159.03" x2="876.90" y2="1159.03" stroke="#000000" stroke-width="1.3" />
<line x1="162.20" y1="1140.66" x2="176.50" y2="1140.66" stroke="#000000" stroke-width="1.3" />
<line x1="884.30" y1="1140.66" x2="870.00" y2="1140.66" stroke="#000000" stroke-width="1.3" />
<line x1="162.20" y1="1122.29" x2="169.60" y2="1122.29" stroke="#000000" stroke-width="1.3" />
<line x1="884.30" y1="1122.29" x2="876.90" y2="1122.29" stroke="#000000" stroke-width="1.3" />
<line x1="162.20" y1="1103.92" x2="169.60" y2="1103.92" stroke="#000000" stroke-width="1.3" />
<line x1="884.30" y1="1103.92" x2="876.90" y2="1103.92" stroke="#000000" stroke-width="1.3" />
<line x1="162.20" y1="1085.56" x2="169.60" y2="1085.56" stroke="#000000" stroke-width="1.3" />
<line x1="884.30" y1="1085.56" x2="876.90" y2="1085.56" stroke="#000000" stroke-width="1.3" />
<line x1="162.20" y1="1067.19" x2="169.60" y2="1067.19" stroke="#000000" stroke-width="1.3" />
<line x1="884.30" y1="1067.19" x2="876.90" y2="1067.19" stroke="#000000" stroke-width="1.3" />
<line x1="162.20" y1="1048.82" x2="176.50" y2="1048.82" stroke="#000000" stroke-width="1.3" />
<line x1="884.30" y1="1048.82" x2="870.00" y2="1048.82" stroke="#000000" stroke-width="1.3" />
<line x1="162.20" y1="1030.45" x2="169.60" y2="1030.45" stroke="#000000" stroke-width="1.3" />
<line x1="884.30" y1="1030.45" x2="876.90" y2="1030.45" stroke="#000000" stroke-width="1.3" />
<line x1="162.20" y1="1012.08" x2="169.60" y2="1012.08" stroke="#000000" stroke-width="1.3" />
<line x1="884.30" y1="1012.08" x2="876.90" y2="1012.08" stroke="#000000" stroke-width="1.3" />
<line x1="162.20" y1="993.72" x2="169.60" y2="993.72" stroke="#000000" stroke-width="1.3" />
<line x1="884.30" y1="993.72" x2="876.90" y2="993.72" stroke="#000000" stroke-width="1.3" />
<line x1="162.20" y1="975.35" x2="169.60" y2="975.35" stroke="#000000" stroke-width="1.3" />
<line x1="884.30" y1="975.35" x2="876.90" y2="975.35" stroke="#000000" stroke-width="1.3" />
<line x1="162.20" y1="956.98" x2="176.50" y2="956.98" stroke="#000000" stroke-width="1.3" />
<line x1="884.30" y1="956.98" x2="870.00" y2="956.98" stroke="#000000" stroke-width="1.3" />
<line x1="162.20" y1="938.61" x2="169.60" y2="938.61" stroke="#000000" stroke-width="1.3" />
<line x1="884.30" y1="938.61" x2="876.90" y2="938.61" stroke="#000000" stroke-width="1.3" />
<line x1="162.20" y1="920.24" x2="169.60" y2="920.24" stroke="#000000" stroke-width="1.3" />
<line x1="884.30" y1="920.24" x2="876.90" y2="920.24" stroke="#000000" stroke-width="1.3" />
<line x1="162.20" y1="901.88" x2="169.60" y2="901.88" stroke="#000000" stroke-width="1.3" />
<line x1="884.30" y1="901.88" x2="876.90" y2="901.88" stroke="#000000" stroke-width="1.3" />
<line x1="162.20" y1="883.51" x2="169.60" y2="883.51" stroke="#000000" stroke-width="1.3" />
<line x1="884.30" y1="883.51" x2="876.90" y2="883.51" stroke="#000000" stroke-width="1.3" />
<line x1="162.20" y1="865.14" x2="176.50" y2="865.14" stroke="#000000" stroke-width="1.3" />
<line x1="884.30" y1="865.14" x2="870.00" y2="865.14" stroke="#000000" stroke-width="1.3" />
<line x1="162.20" y1="846.77" x2="169.60" y2="846.77" stroke="#000000" stroke-width="1.3" />
<line x1="884.30" y1="846.77" x2="876.90" y2="846.77" stroke="#000000" stroke-width="1.3" />
<line x1="162.20" y1="828.40" x2="169.60" y2="828.40" stroke="#000000" stroke-width="1.3" />
<line x1="884.30" y1="828.40" x2="876.90" y2="828.40" stroke="#000000" stroke-width="1.3" />
<line x1="162.20" y1="810.04" x2="169.60" y2="810.04" stroke="#000000" stroke-width="1.3" />
<line x1="884.30" y1="810.04" x2="876.90" y2="810.04" stroke="#000000" stroke-width="1.3" />
<line x1="162.20" y1="791.67" x2="169.60" y2="791.67" stroke="#000000" stroke-width="1.3" />
<line x1="884.30" y1="791.67" x2="876.90" y2="791.67" stroke="#000000" stroke-width="1.3" />
<path clip-path="url(#cb)" d="M159.8,1209.3 L160.8,1209.8 L161.8,1211.4 L162.8,1212.9 L163.8,1213.3 L164.8,1215.2 L165.8,1215.8 L166.8,1214.9 L167.8,1215.5 L168.8,1214.6 L169.8,1215.6 L170.8,1215.8 L171.8,1213.8 L172.8,1214.0 L173.8,1214.9 L174.8,1214.7 L175.8,1214.7 L176.8,1214.2 L177.8,1214.7 L178.8,1214.1 L179.8,1214.3 L180.8,1215.1 L181.8,1215.4 L182.8,1214.8 L183.8,1214.8 L184.8,1215.0 L185.8,1214.7 L186.8,1212.7 L187.8,1213.5 L188.8,1213.2 L189.8,1212.3 L190.8,1210.7 L191.8,1211.4 L192.8,1210.2 L193.8,1210.4 L194.8,1209.2 L195.8,1207.7 L196.8,1207.3 L197.8,1208.1 L198.8,1206.8 L199.8,1207.5 L200.8,1207.3 L201.8,1207.4 L202.8,1205.4 L203.8,1205.5 L204.8,1204.2 L205.8,1203.7 L206.8,1202.4 L207.8,1204.0 L208.8,1203.4 L209.8,1203.9 L210.8,1203.0 L211.8,1201.3 L212.8,1201.0 L213.8,1200.9 L214.8,1199.6 L215.8,1197.9 L216.8,1197.0 L217.8,1196.9 L218.8,1196.3 L219.8,1195.1 L220.8,1193.9 L221.8,1193.8 L222.8,1192.2 L223.8,1190.9 L224.8,1190.2 L225.8,1188.0 L226.8,1186.1 L227.8,1185.3 L228.8,1182.3 L229.8,1181.5 L230.8,1179.3 L231.8,1177.4 L232.8,1175.9 L233.8,1172.8 L234.8,1171.1 L235.8,1169.2 L236.8,1167.2 L237.8,1166.1 L238.8,1163.6 L239.8,1163.3 L240.8,1162.7 L241.8,1159.5 L242.8,1157.0 L243.8,1156.2 L244.8,1155.0 L245.8,1152.5 L246.8,1150.8 L247.8,1148.1 L248.8,1146.7 L249.8,1145.6 L250.8,1143.2 L251.8,1140.3 L252.8,1139.8 L253.8,1136.5 L254.8,1135.6 L255.8,1134.1 L256.8,1131.9 L257.8,1129.0 L258.8,1126.2 L259.8,1123.6 L260.8,1121.4 L261.8,1120.7 L262.8,1120.0 L263.8,1119.1 L264.8,1118.0 L265.8,1116.2 L266.8,1116.1 L267.8,1114.7 L268.8,1113.2 L269.8,1112.8 L270.8,1112.7 L271.8,1113.4 L272.8,1113.7 L273.8,1113.8 L274.8,1113.9 L275.8,1114.2 L276.8,1113.4 L277.8,1112.6 L278.8,1113.4 L279.8,1114.0 L280.8,1113.7 L281.8,1112.7 L282.8,1110.9 L283.8,1110.5 L284.8,1109.6 L285.8,1108.8 L286.8,1106.6 L287.8,1104.8 L288.8,1101.7 L289.8,1098.9 L290.8,1095.0 L291.8,1091.6 L292.8,1090.9 L293.8,1087.6 L294.8,1085.0 L295.8,1082.3 L296.8,1078.6 L297.8,1075.2 L298.8,1071.5 L299.8,1067.2 L300.8,1062.7 L301.8,1058.0 L302.8,1053.3 L303.8,1048.2 L304.8,1042.4 L305.8,1036.6 L306.8,1031.4 L307.8,1026.7 L308.8,1022.5 L309.8,1017.6 L310.8,1012.4 L311.8,1006.0 L312.8,998.3 L313.8,990.3 L314.8,982.9 L315.8,976.6 L316.8,969.4 L317.8,962.6 L318.8,956.2 L319.8,949.1 L320.8,942.8 L321.8,937.4 L322.8,932.9 L323.8,928.0 L324.8,922.7 L325.8,916.6 L326.8,910.8 L327.8,904.9 L328.8,899.1 L329.8,893.1 L330.8,886.9 L331.8,881.1 L332.8,875.0 L333.8,868.3 L334.8,861.4 L335.8,855.3 L336.8,850.6 L337.8,845.8 L338.8,841.2 L339.8,836.9 L340.8,833.3 L341.8,829.6 L342.8,825.9 L343.8,822.0 L344.8,819.5 L345.8,817.6 L346.8,814.5 L347.8,811.5 L348.8,809.5 L349.8,806.7 L350.8,804.2 L351.8,802.0 L352.8,801.3 L353.8,800.4 L354.8,799.2 L355.8,797.5 L356.8,795.6 L357.8,795.2 L358.8,794.3 L359.8,793.0 L360.8,792.8 L361.8,792.9 L362.8,791.3 L363.8,790.8 L364.8,790.4 L365.8,789.4 L366.8,788.9 L367.8,790.9 L368.8,791.7 L369.8,792.1 L370.8,789.9 L371.8,789.6 L372.8,790.4 L373.8,791.2 L374.8,791.8 L375.8,790.8 L376.8,791.3 L377.8,791.2 L378.8,791.6 L379.8,792.1 L380.8,793.0 L381.8,793.2 L382.8,794.0 L383.8,794.0 L384.8,794.6 L385.8,796.4 L386.8,796.4 L387.8,797.5 L388.8,796.9 L389.8,799.1 L390.8,800.0 L391.8,799.7 L392.8,800.4 L393.8,800.9 L394.8,802.5 L395.8,803.4 L396.8,804.7 L397.8,806.1 L398.8,806.8 L399.8,802.5 L400.8,805.1 L401.8,806.9 L402.8,807.3 L403.8,808.1 L404.8,809.4 L405.8,808.3 L406.8,810.0 L407.8,811.1 L408.8,811.0 L409.8,812.5 L410.8,813.2 L411.8,814.5 L412.8,813.9 L413.8,812.8 L414.8,814.7 L415.8,815.8 L416.8,816.9 L417.8,817.7 L418.8,818.0 L419.8,818.5 L420.8,818.2 L421.8,817.5 L422.8,817.8 L423.8,818.3 L424.8,818.7 L425.8,820.2 L426.8,821.6 L427.8,821.4 L428.8,820.7 L429.8,820.0 L430.8,819.0 L431.8,820.3 L432.8,822.3 L433.8,820.6 L434.8,821.3 L435.8,820.1 L436.8,821.9 L437.8,821.4 L438.8,823.0 L439.8,823.2 L440.8,826.4 L441.8,824.4 L442.8,827.0 L443.8,825.6 L444.8,827.6 L445.8,827.5 L446.8,829.0 L447.8,828.4 L448.8,826.9 L449.8,826.9 L450.8,827.4 L451.8,828.9 L452.8,827.4 L453.8,827.8 L454.8,829.0 L455.8,828.6 L456.8,828.8 L457.8,828.8 L458.8,829.2 L459.8,831.1 L460.8,830.0 L461.8,830.8 L462.8,830.9 L463.8,830.6 L464.8,832.5 L465.8,833.4 L466.8,834.0 L467.8,832.6 L468.8,833.0 L469.8,832.6 L470.8,831.3 L471.8,831.5 L472.8,831.0 L473.8,833.1 L474.8,834.4 L475.8,835.7 L476.8,836.5 L477.8,835.5 L478.8,834.7 L479.8,833.9 L480.8,835.7 L481.8,836.1 L482.8,835.5 L483.8,837.6 L484.8,838.1 L485.8,836.9 L486.8,836.0 L487.8,834.9 L488.8,835.6 L489.8,836.1 L490.8,835.7 L491.8,837.4 L492.8,838.8 L493.8,840.0 L494.8,839.7 L495.8,840.3 L496.8,839.0 L497.8,839.2 L498.8,839.6 L499.8,839.4 L500.8,840.1 L501.8,840.9 L502.8,839.8 L503.8,839.1 L504.8,839.7 L505.8,839.7 L506.8,840.6 L507.8,840.8 L508.8,842.3 L509.8,843.1 L510.8,842.4 L511.8,840.8 L512.8,841.3 L513.8,843.2 L514.8,842.4 L515.8,842.3 L516.8,843.8 L517.8,841.9 L518.8,844.4 L519.8,843.4 L520.8,844.7 L521.8,842.5 L522.8,844.2 L523.8,842.5 L524.8,844.1 L525.8,843.5 L526.8,844.5 L527.8,844.4 L528.8,843.8 L529.8,843.2 L530.8,844.1 L531.8,846.4 L532.8,846.3 L533.8,846.1 L534.8,845.7 L535.8,845.8 L536.8,845.4 L537.8,846.4 L538.8,846.5 L539.8,843.4 L540.8,843.3 L541.8,844.0 L542.8,845.0 L543.8,845.8 L544.8,844.2 L545.8,845.7 L546.8,845.0 L547.8,847.3 L548.8,847.3 L549.8,846.6 L550.8,846.1 L551.8,846.7 L552.8,848.0 L553.8,848.1 L554.8,846.4 L555.8,847.7 L556.8,846.4 L557.8,848.8 L558.8,848.0 L559.8,846.5 L560.8,847.1 L561.8,845.5 L562.8,847.0 L563.8,847.8 L564.8,848.3 L565.8,846.9 L566.8,846.8 L567.8,845.4 L568.8,846.9 L569.8,847.4 L570.8,847.1 L571.8,846.8 L572.8,845.6 L573.8,844.3 L574.8,845.7 L575.8,847.1 L576.8,847.8 L577.8,846.7 L578.8,846.4 L579.8,846.9 L580.8,847.7 L581.8,847.9 L582.8,848.5 L583.8,848.3 L584.8,846.3 L585.8,845.9 L586.8,846.0 L587.8,843.8 L588.8,844.8 L589.8,845.4 L590.8,845.0 L591.8,845.6 L592.8,847.8 L593.8,846.4 L594.8,846.9 L595.8,848.2 L596.8,846.7 L597.8,846.6 L598.8,846.6 L599.8,847.2 L600.8,846.9 L601.8,849.2 L602.8,849.5 L603.8,848.8 L604.8,848.7 L605.8,848.4 L606.8,849.0 L607.8,849.2 L608.8,848.6 L609.8,848.6 L610.8,846.4 L611.8,845.9 L612.8,849.0 L613.8,850.5 L614.8,849.7 L615.8,848.9 L616.8,845.0 L617.8,847.3 L618.8,847.4 L619.8,848.6 L620.8,848.4 L621.8,845.1 L622.8,846.4 L623.8,849.1 L624.8,849.8 L625.8,848.4 L626.8,849.7 L627.8,849.5 L628.8,849.4 L629.8,848.8 L630.8,844.8 L631.8,848.7 L632.8,851.0 L633.8,850.0 L634.8,847.8 L635.8,847.9 L636.8,847.6 L637.8,849.4 L638.8,849.7 L639.8,849.2 L640.8,848.4 L641.8,847.8 L642.8,850.0 L643.8,850.6 L644.8,850.7 L645.8,849.1 L646.8,849.3 L647.8,848.6 L648.8,850.5 L649.8,849.6 L650.8,850.5 L651.8,848.1 L652.8,849.0 L653.8,849.1 L654.8,848.0 L655.8,847.6 L656.8,849.0 L657.8,850.4 L658.8,849.7 L659.8,847.5 L660.8,848.7 L661.8,849.5 L662.8,848.7 L663.8,850.3 L664.8,849.3 L665.8,848.3 L666.8,848.8 L667.8,849.6 L668.8,849.1 L669.8,846.6 L670.8,848.0 L671.8,848.5 L672.8,848.4 L673.8,850.7 L674.8,849.3 L675.8,847.8 L676.8,848.4 L677.8,847.1 L678.8,848.5 L679.8,846.1 L680.8,849.2 L681.8,849.1 L682.8,850.8 L683.8,848.6 L684.8,845.9 L685.8,847.4 L686.8,850.5 L687.8,849.4 L688.8,848.1 L689.8,848.6 L690.8,848.9 L691.8,849.5 L692.8,849.1 L693.8,847.7 L694.8,847.6 L695.8,848.3 L696.8,850.5 L697.8,848.6 L698.8,848.4 L699.8,850.2 L700.8,850.6 L701.8,850.5 L702.8,851.1 L703.8,850.7 L704.8,849.8 L705.8,846.2 L706.8,847.8 L707.8,846.3 L708.8,849.1 L709.8,849.3 L710.8,845.8 L711.8,847.8 L712.8,848.6 L713.8,849.3 L714.8,850.0 L715.8,850.4 L716.8,848.9 L717.8,847.5 L718.8,850.0 L719.8,850.1 L720.8,850.3 L721.8,848.0 L722.8,850.3 L723.8,850.8 L724.8,849.5 L725.8,849.3 L726.8,849.3 L727.8,851.1 L728.8,850.1 L729.8,847.0 L730.8,846.7 L731.8,847.9 L732.8,849.1 L733.8,847.3 L734.8,847.6 L735.8,849.2 L736.8,849.1 L737.8,848.8 L738.8,849.8 L739.8,849.7 L740.8,849.9 L741.8,849.5 L742.8,849.7 L743.8,849.4 L744.8,847.0 L745.8,849.5 L746.8,848.9 L747.8,847.5 L748.8,846.7 L749.8,848.2 L750.8,850.3 L751.8,850.9 L752.8,850.7 L753.8,847.6 L754.8,849.0 L755.8,848.9 L756.8,849.7 L757.8,848.5 L758.8,849.8 L759.8,849.2 L760.8,849.4 L761.8,848.5 L762.8,847.9 L763.8,848.9 L764.8,843.6 L765.8,850.3 L766.8,849.0 L767.8,848.8 L768.8,847.0 L769.8,848.6 L770.8,846.8 L771.8,848.0 L772.8,846.8 L773.8,849.5 L774.8,849.2 L775.8,849.1 L776.8,849.6 L777.8,848.6 L778.8,849.4 L779.8,850.2 L780.8,849.3 L781.8,849.7 L782.8,849.8 L783.8,850.0 L784.8,850.6 L785.8,850.5 L786.8,849.7 L787.8,848.9 L788.8,848.9 L789.8,848.8 L790.8,851.2 L791.8,848.1 L792.8,845.6 L793.8,846.9 L794.8,849.0 L795.8,847.6 L796.8,848.7 L797.8,848.1 L798.8,848.3 L799.8,847.3 L800.8,849.5 L801.8,850.1 L802.8,849.6 L803.8,850.1 L804.8,849.4 L805.8,848.8 L806.8,848.3 L807.8,846.8 L808.8,844.5 L809.8,848.7 L810.8,848.9 L811.8,847.7 L812.8,848.7 L813.8,848.7 L814.8,847.9 L815.8,848.5 L816.8,848.6 L817.8,848.6 L818.8,849.7 L819.8,849.2 L820.8,849.5 L821.8,850.9 L822.8,848.5 L823.8,848.3 L824.8,848.9 L825.8,848.9 L826.8,849.4 L827.8,850.0 L828.8,849.5 L829.8,849.0 L830.8,849.4 L831.8,849.6 L832.8,850.4 L833.8,850.7 L834.8,850.2 L835.8,850.5 L836.8,849.4 L837.8,850.2 L838.8,848.7 L839.8,849.4 L840.8,849.4 L841.8,849.6 L842.8,848.8 L843.8,849.5 L844.8,846.4 L845.8,847.9 L846.8,848.8 L847.8,849.0 L848.8,849.0 L849.8,849.1 L850.8,849.9 L851.8,849.3 L852.8,849.8 L853.8,847.1 L854.8,850.7 L855.8,850.7 L856.8,849.9 L857.8,848.6 L858.8,848.5 L859.8,850.6 L860.8,851.0 L861.8,850.5 L862.8,849.6 L863.8,850.3 L864.8,850.0 L865.8,849.3 L866.8,850.2 L867.8,849.8 L868.8,850.0 L869.8,850.9 L870.8,848.8 L871.8,849.9 L872.8,851.3 L873.8,850.5 L874.8,848.9 L875.8,849.5 L876.8,850.4 L877.8,848.8 L878.8,848.4 L879.8,849.0 L880.8,849.8 L881.8,849.8 L882.8,850.5 L883.8,850.7 L884.8,850.6 L884.8,859.2 L883.8,858.8 L882.8,859.7 L881.8,861.2 L880.8,857.4 L879.8,856.7 L878.8,857.6 L877.8,857.7 L876.8,858.2 L875.8,858.1 L874.8,857.8 L873.8,858.4 L872.8,858.7 L871.8,859.0 L870.8,859.1 L869.8,858.3 L868.8,858.3 L867.8,857.4 L866.8,858.8 L865.8,857.8 L864.8,859.0 L863.8,858.0 L862.8,857.8 L861.8,858.4 L860.8,859.9 L859.8,858.7 L858.8,857.0 L857.8,856.6 L856.8,858.7 L855.8,859.6 L854.8,859.0 L853.8,858.5 L852.8,857.8 L851.8,859.4 L850.8,858.3 L849.8,857.6 L848.8,857.2 L847.8,857.2 L846.8,856.8 L845.8,857.1 L844.8,857.2 L843.8,857.5 L842.8,857.1 L841.8,857.5 L840.8,858.4 L839.8,858.5 L838.8,858.6 L837.8,858.9 L836.8,858.3 L835.8,858.2 L834.8,858.3 L833.8,858.0 L832.8,858.5 L831.8,857.4 L830.8,857.5 L829.8,857.6 L828.8,859.5 L827.8,858.1 L826.8,858.7 L825.8,858.5 L824.8,856.7 L823.8,856.8 L822.8,859.2 L821.8,858.3 L820.8,859.2 L819.8,860.1 L818.8,857.4 L817.8,858.8 L816.8,857.6 L815.8,856.3 L814.8,857.6 L813.8,856.7 L812.8,856.7 L811.8,856.6 L810.8,857.0 L809.8,857.9 L808.8,856.7 L807.8,857.7 L806.8,857.2 L805.8,858.7 L804.8,859.7 L803.8,858.3 L802.8,858.3 L801.8,859.6 L800.8,857.8 L799.8,857.4 L798.8,857.3 L797.8,857.0 L796.8,857.1 L795.8,857.6 L794.8,857.3 L793.8,857.7 L792.8,855.9 L791.8,858.8 L790.8,861.3 L789.8,858.4 L788.8,857.5 L787.8,858.5 L786.8,859.7 L785.8,858.9 L784.8,860.0 L783.8,860.0 L782.8,858.1 L781.8,859.0 L780.8,860.2 L779.8,859.4 L778.8,859.9 L777.8,859.2 L776.8,862.0 L775.8,858.6 L774.8,858.5 L773.8,858.5 L772.8,857.7 L771.8,856.8 L770.8,858.3 L769.8,858.1 L768.8,857.8 L767.8,858.2 L766.8,858.0 L765.8,859.4 L764.8,858.4 L763.8,858.1 L762.8,857.6 L761.8,858.9 L760.8,858.1 L759.8,858.7 L758.8,858.4 L757.8,859.3 L756.8,858.0 L755.8,857.7 L754.8,859.5 L753.8,859.6 L752.8,860.3 L751.8,861.8 L750.8,859.7 L749.8,859.0 L748.8,858.8 L747.8,857.5 L746.8,859.7 L745.8,859.0 L744.8,859.6 L743.8,858.9 L742.8,859.8 L741.8,863.8 L740.8,861.5 L739.8,858.6 L738.8,861.7 L737.8,859.0 L736.8,859.2 L735.8,858.2 L734.8,857.3 L733.8,856.4 L732.8,858.5 L731.8,858.7 L730.8,856.1 L729.8,857.3 L728.8,861.3 L727.8,861.0 L726.8,858.0 L725.8,857.9 L724.8,860.5 L723.8,861.3 L722.8,859.2 L721.8,857.6 L720.8,858.9 L719.8,860.9 L718.8,860.1 L717.8,859.0 L716.8,857.8 L715.8,861.4 L714.8,859.3 L713.8,863.1 L712.8,859.8 L711.8,857.1 L710.8,857.9 L709.8,858.5 L708.8,859.7 L707.8,860.1 L706.8,863.2 L705.8,857.1 L704.8,859.3 L703.8,861.3 L702.8,859.7 L701.8,860.0 L700.8,861.2 L699.8,861.6 L698.8,861.2 L697.8,859.5 L696.8,860.2 L695.8,859.5 L694.8,857.9 L693.8,857.3 L692.8,858.2 L691.8,858.1 L690.8,858.4 L689.8,858.5 L688.8,857.8 L687.8,859.4 L686.8,859.3 L685.8,858.3 L684.8,857.3 L683.8,859.0 L682.8,860.1 L681.8,858.7 L680.8,859.3 L679.8,858.5 L678.8,858.6 L677.8,859.8 L676.8,857.1 L675.8,859.0 L674.8,858.9 L673.8,859.5 L672.8,858.8 L671.8,858.5 L670.8,857.5 L669.8,858.5 L668.8,857.9 L667.8,858.5 L666.8,858.8 L665.8,859.3 L664.8,860.4 L663.8,860.4 L662.8,859.4 L661.8,858.7 L660.8,858.9 L659.8,859.3 L658.8,859.8 L657.8,858.7 L656.8,858.7 L655.8,857.4 L654.8,859.2 L653.8,859.1 L652.8,863.3 L651.8,858.9 L650.8,858.9 L649.8,860.1 L648.8,860.1 L647.8,859.7 L646.8,858.3 L645.8,858.2 L644.8,859.0 L643.8,859.2 L642.8,860.4 L641.8,858.3 L640.8,858.3 L639.8,859.1 L638.8,858.3 L637.8,858.0 L636.8,857.4 L635.8,857.4 L634.8,858.2 L633.8,858.9 L632.8,859.6 L631.8,857.5 L630.8,856.5 L629.8,858.9 L628.8,859.3 L627.8,860.2 L626.8,859.9 L625.8,858.8 L624.8,859.7 L623.8,861.0 L622.8,856.7 L621.8,856.6 L620.8,859.4 L619.8,857.4 L618.8,857.0 L617.8,856.0 L616.8,857.0 L615.8,858.4 L614.8,859.0 L613.8,861.1 L612.8,858.2 L611.8,856.1 L610.8,858.6 L609.8,857.4 L608.8,860.0 L607.8,858.3 L606.8,859.0 L605.8,859.1 L604.8,857.8 L603.8,859.8 L602.8,859.8 L601.8,857.7 L600.8,859.4 L599.8,857.9 L598.8,857.0 L597.8,855.2 L596.8,856.2 L595.8,857.7 L594.8,857.8 L593.8,857.9 L592.8,858.0 L591.8,854.8 L590.8,853.7 L589.8,854.2 L588.8,855.1 L587.8,856.4 L586.8,854.4 L585.8,855.0 L584.8,858.4 L583.8,859.0 L582.8,857.4 L581.8,858.4 L580.8,857.3 L579.8,855.6 L578.8,856.0 L577.8,856.2 L576.8,858.9 L575.8,855.9 L574.8,855.0 L573.8,854.0 L572.8,855.9 L571.8,858.4 L570.8,856.4 L569.8,857.3 L568.8,855.6 L567.8,856.4 L566.8,856.8 L565.8,858.1 L564.8,856.6 L563.8,857.8 L562.8,855.5 L561.8,856.3 L560.8,855.6 L559.8,857.9 L558.8,856.9 L557.8,857.3 L556.8,856.7 L555.8,859.4 L554.8,857.0 L553.8,857.5 L552.8,857.1 L551.8,856.5 L550.8,856.6 L549.8,855.7 L548.8,856.1 L547.8,856.1 L546.8,856.0 L545.8,854.2 L544.8,856.9 L543.8,855.6 L542.8,855.0 L541.8,853.6 L540.8,853.1 L539.8,856.6 L538.8,856.9 L537.8,856.6 L536.8,857.3 L535.8,855.0 L534.8,854.3 L533.8,857.3 L532.8,855.5 L531.8,855.3 L530.8,854.0 L529.8,852.0 L528.8,854.3 L527.8,855.4 L526.8,855.5 L525.8,852.9 L524.8,853.3 L523.8,854.4 L522.8,853.9 L521.8,854.0 L520.8,853.7 L519.8,855.6 L518.8,853.9 L517.8,855.5 L516.8,853.7 L515.8,851.9 L514.8,851.4 L513.8,857.1 L512.8,851.5 L511.8,853.3 L510.8,852.8 L509.8,852.8 L508.8,851.7 L507.8,851.8 L506.8,850.2 L505.8,850.0 L504.8,850.1 L503.8,848.9 L502.8,850.1 L501.8,850.4 L500.8,850.3 L499.8,848.2 L498.8,848.2 L497.8,849.7 L496.8,849.1 L495.8,849.2 L494.8,849.1 L493.8,852.3 L492.8,849.1 L491.8,848.2 L490.8,845.9 L489.8,845.8 L488.8,845.4 L487.8,844.1 L486.8,845.5 L485.8,846.7 L484.8,846.9 L483.8,847.9 L482.8,847.0 L481.8,846.9 L480.8,844.8 L479.8,843.7 L478.8,843.5 L477.8,846.1 L476.8,847.5 L475.8,845.3 L474.8,843.3 L473.8,843.1 L472.8,841.6 L471.8,842.8 L470.8,840.9 L469.8,843.0 L468.8,841.6 L467.8,842.3 L466.8,843.5 L465.8,842.9 L464.8,843.4 L463.8,841.8 L462.8,840.9 L461.8,840.2 L460.8,840.7 L459.8,840.9 L458.8,841.3 L457.8,839.6 L456.8,838.0 L455.8,839.7 L454.8,838.9 L453.8,836.9 L452.8,836.4 L451.8,838.8 L450.8,838.1 L449.8,837.7 L448.8,838.3 L447.8,840.3 L446.8,840.3 L445.8,837.1 L444.8,836.7 L443.8,837.5 L442.8,838.4 L441.8,836.1 L440.8,836.3 L439.8,834.6 L438.8,834.3 L437.8,834.7 L436.8,834.0 L435.8,831.3 L434.8,831.7 L433.8,831.1 L432.8,831.7 L431.8,832.1 L430.8,829.9 L429.8,832.4 L428.8,829.8 L427.8,831.2 L426.8,829.7 L425.8,828.6 L424.8,828.7 L423.8,829.0 L422.8,830.1 L421.8,826.2 L420.8,829.0 L419.8,828.4 L418.8,828.0 L417.8,827.1 L416.8,826.1 L415.8,825.1 L414.8,823.1 L413.8,822.7 L412.8,823.2 L411.8,824.3 L410.8,823.3 L409.8,822.1 L408.8,820.1 L407.8,820.6 L406.8,819.7 L405.8,818.7 L404.8,818.1 L403.8,817.4 L402.8,816.0 L401.8,815.5 L400.8,815.9 L399.8,816.3 L398.8,816.8 L397.8,814.7 L396.8,814.6 L395.8,812.6 L394.8,812.2 L393.8,810.3 L392.8,810.5 L391.8,809.2 L390.8,809.9 L389.8,810.0 L388.8,807.2 L387.8,807.0 L386.8,806.0 L385.8,806.4 L384.8,804.5 L383.8,802.5 L382.8,803.4 L381.8,802.4 L380.8,802.3 L379.8,800.6 L378.8,799.9 L377.8,799.6 L376.8,800.2 L375.8,799.3 L374.8,799.2 L373.8,799.4 L372.8,798.8 L371.8,797.7 L370.8,799.1 L369.8,799.4 L368.8,799.5 L367.8,799.3 L366.8,797.9 L365.8,798.5 L364.8,798.3 L363.8,800.1 L362.8,800.8 L361.8,801.2 L360.8,801.1 L359.8,803.2 L358.8,805.9 L357.8,808.6 L356.8,808.5 L355.8,810.9 L354.8,812.2 L353.8,814.9 L352.8,816.2 L351.8,818.2 L350.8,820.8 L349.8,823.2 L348.8,826.4 L347.8,830.2 L346.8,833.7 L345.8,836.8 L344.8,840.8 L343.8,844.2 L342.8,848.3 L341.8,853.4 L340.8,858.6 L339.8,864.4 L338.8,870.3 L337.8,876.2 L336.8,882.5 L335.8,889.9 L334.8,896.8 L333.8,902.6 L332.8,908.1 L331.8,913.8 L330.8,919.4 L329.8,925.5 L328.8,931.0 L327.8,936.6 L326.8,942.2 L325.8,947.7 L324.8,952.8 L323.8,958.4 L322.8,964.7 L321.8,972.0 L320.8,979.5 L319.8,986.6 L318.8,993.2 L317.8,1000.3 L316.8,1007.1 L315.8,1013.7 L314.8,1020.9 L313.8,1027.4 L312.8,1032.5 L311.8,1036.0 L310.8,1040.1 L309.8,1044.3 L308.8,1049.1 L307.8,1054.8 L306.8,1060.5 L305.8,1065.7 L304.8,1070.2 L303.8,1073.9 L302.8,1077.7 L301.8,1081.5 L300.8,1085.2 L299.8,1088.5 L298.8,1091.5 L297.8,1093.9 L296.8,1096.3 L295.8,1099.1 L294.8,1101.5 L293.8,1104.5 L292.8,1107.6 L291.8,1110.4 L290.8,1112.9 L289.8,1114.8 L288.8,1115.6 L287.8,1116.2 L286.8,1117.4 L285.8,1118.8 L284.8,1119.3 L283.8,1119.8 L282.8,1122.9 L281.8,1120.9 L280.8,1121.4 L279.8,1121.2 L278.8,1120.9 L277.8,1120.6 L276.8,1120.5 L275.8,1121.6 L274.8,1120.9 L273.8,1121.4 L272.8,1121.5 L271.8,1121.0 L270.8,1121.1 L269.8,1120.3 L268.8,1121.8 L267.8,1124.7 L266.8,1126.6 L265.8,1128.1 L264.8,1130.8 L263.8,1130.0 L262.8,1132.0 L261.8,1136.8 L260.8,1137.4 L259.8,1138.7 L258.8,1141.2 L257.8,1144.0 L256.8,1146.2 L255.8,1147.4 L254.8,1148.9 L253.8,1151.5 L252.8,1153.8 L251.8,1155.7 L250.8,1156.8 L249.8,1158.9 L248.8,1160.7 L247.8,1162.1 L246.8,1164.4 L245.8,1165.6 L244.8,1167.9 L243.8,1169.1 L242.8,1170.5 L241.8,1172.7 L240.8,1175.0 L239.8,1176.5 L238.8,1177.2 L237.8,1181.1 L236.8,1180.5 L235.8,1182.5 L234.8,1184.3 L233.8,1186.8 L232.8,1189.4 L231.8,1191.6 L230.8,1193.4 L229.8,1194.4 L228.8,1196.1 L227.8,1197.7 L226.8,1197.6 L225.8,1198.8 L224.8,1200.8 L223.8,1201.7 L222.8,1202.6 L221.8,1203.7 L220.8,1204.2 L219.8,1204.7 L218.8,1205.3 L217.8,1206.1 L216.8,1206.5 L215.8,1207.9 L214.8,1208.5 L213.8,1210.0 L212.8,1210.3 L211.8,1210.7 L210.8,1212.0 L209.8,1215.2 L208.8,1213.2 L207.8,1212.8 L206.8,1211.8 L205.8,1212.0 L204.8,1214.0 L203.8,1214.0 L202.8,1214.2 L201.8,1215.7 L200.8,1216.2 L199.8,1217.1 L198.8,1215.8 L197.8,1217.7 L196.8,1217.6 L195.8,1217.8 L194.8,1218.0 L193.8,1219.7 L192.8,1219.3 L191.8,1220.3 L190.8,1220.9 L189.8,1221.8 L188.8,1223.9 L187.8,1222.6 L186.8,1222.0 L185.8,1222.3 L184.8,1222.5 L183.8,1223.1 L182.8,1223.6 L181.8,1223.9 L180.8,1223.4 L179.8,1223.6 L178.8,1223.9 L177.8,1222.6 L176.8,1223.0 L175.8,1222.5 L174.8,1223.1 L173.8,1223.8 L172.8,1221.9 L171.8,1222.2 L170.8,1223.7 L169.8,1223.7 L168.8,1224.1 L167.8,1222.7 L166.8,1223.0 L165.8,1224.4 L164.8,1223.7 L163.8,1223.2 L162.8,1223.0 L161.8,1220.8 L160.8,1219.4 L159.8,1219.5 Z" fill="#ff0000"/>
<path clip-path="url(#cb)" d="M159.8,1218.5 L160.8,1218.3 L161.8,1218.3 L162.8,1219.5 L163.8,1220.6 L164.8,1220.3 L165.8,1220.2 L166.8,1220.8 L167.8,1222.4 L168.8,1222.3 L169.8,1221.4 L170.8,1220.3 L171.8,1220.6 L172.8,1220.7 L173.8,1221.3 L174.8,1221.3 L175.8,1221.3 L176.8,1220.5 L177.8,1220.4 L178.8,1220.7 L179.8,1220.3 L180.8,1220.6 L181.8,1221.0 L182.8,1220.9 L183.8,1219.5 L184.8,1220.9 L185.8,1219.4 L186.8,1221.5 L187.8,1222.5 L188.8,1221.5 L189.8,1220.9 L190.8,1220.6 L191.8,1218.6 L192.8,1218.9 L193.8,1217.1 L194.8,1217.9 L195.8,1218.3 L196.8,1218.6 L197.8,1218.4 L198.8,1215.7 L199.8,1215.1 L200.8,1215.7 L201.8,1214.3 L202.8,1215.7 L203.8,1215.4 L204.8,1210.8 L205.8,1214.0 L206.8,1214.1 L207.8,1212.7 L208.8,1212.9 L209.8,1211.6 L210.8,1210.6 L211.8,1208.7 L212.8,1208.5 L213.8,1209.3 L214.8,1210.6 L215.8,1208.9 L216.8,1208.1 L217.8,1207.8 L218.8,1206.3 L219.8,1205.7 L220.8,1204.4 L221.8,1203.2 L222.8,1203.3 L223.8,1203.9 L224.8,1202.5 L225.8,1201.9 L226.8,1197.9 L227.8,1198.4 L228.8,1197.9 L229.8,1195.8 L230.8,1195.7 L231.8,1195.4 L232.8,1194.3 L233.8,1192.8 L234.8,1191.7 L235.8,1190.6 L236.8,1188.5 L237.8,1188.5 L238.8,1187.6 L239.8,1183.8 L240.8,1184.4 L241.8,1182.6 L242.8,1181.8 L243.8,1179.8 L244.8,1178.2 L245.8,1177.5 L246.8,1175.9 L247.8,1173.6 L248.8,1172.8 L249.8,1171.1 L250.8,1169.5 L251.8,1166.9 L252.8,1166.2 L253.8,1164.2 L254.8,1161.9 L255.8,1160.6 L256.8,1157.7 L257.8,1155.3 L258.8,1152.4 L259.8,1149.9 L260.8,1147.7 L261.8,1146.0 L262.8,1143.8 L263.8,1141.5 L264.8,1137.4 L265.8,1135.1 L266.8,1132.6 L267.8,1128.8 L268.8,1125.6 L269.8,1122.1 L270.8,1117.1 L271.8,1112.3 L272.8,1106.7 L273.8,1101.5 L274.8,1097.0 L275.8,1092.0 L276.8,1085.8 L277.8,1080.0 L278.8,1077.0 L279.8,1076.0 L280.8,1072.7 L281.8,1071.9 L282.8,1067.6 L283.8,1065.2 L284.8,1062.2 L285.8,1059.5 L286.8,1055.2 L287.8,1051.3 L288.8,1048.5 L289.8,1046.7 L290.8,1044.3 L291.8,1041.0 L292.8,1037.7 L293.8,1034.3 L294.8,1030.8 L295.8,1028.2 L296.8,1025.7 L297.8,1022.3 L298.8,1021.1 L299.8,1018.4 L300.8,1016.1 L301.8,1013.2 L302.8,1011.9 L303.8,1010.5 L304.8,1006.3 L305.8,1007.1 L306.8,1003.5 L307.8,1001.4 L308.8,1000.4 L309.8,998.0 L310.8,996.2 L311.8,994.9 L312.8,993.6 L313.8,992.1 L314.8,990.2 L315.8,989.0 L316.8,987.4 L317.8,986.4 L318.8,984.9 L319.8,983.2 L320.8,982.6 L321.8,980.2 L322.8,979.3 L323.8,977.6 L324.8,977.6 L325.8,976.6 L326.8,975.7 L327.8,972.8 L328.8,971.6 L329.8,972.4 L330.8,970.5 L331.8,969.5 L332.8,966.8 L333.8,966.1 L334.8,963.6 L335.8,963.6 L336.8,961.5 L337.8,962.2 L338.8,958.8 L339.8,960.7 L340.8,960.8 L341.8,959.4 L342.8,957.3 L343.8,956.7 L344.8,955.5 L345.8,951.6 L346.8,950.3 L347.8,951.4 L348.8,951.1 L349.8,950.4 L350.8,947.9 L351.8,949.6 L352.8,946.3 L353.8,946.1 L354.8,945.2 L355.8,946.1 L356.8,944.8 L357.8,942.4 L358.8,943.5 L359.8,943.2 L360.8,941.0 L361.8,940.9 L362.8,941.4 L363.8,941.5 L364.8,941.3 L365.8,939.5 L366.8,936.9 L367.8,936.2 L368.8,936.1 L369.8,937.0 L370.8,937.8 L371.8,932.8 L372.8,933.8 L373.8,931.7 L374.8,932.9 L375.8,931.7 L376.8,933.0 L377.8,932.6 L378.8,931.9 L379.8,930.2 L380.8,929.7 L381.8,929.2 L382.8,929.5 L383.8,928.5 L384.8,927.7 L385.8,927.6 L386.8,926.7 L387.8,926.0 L388.8,925.9 L389.8,926.6 L390.8,926.3 L391.8,924.8 L392.8,925.6 L393.8,925.9 L394.8,926.1 L395.8,925.4 L396.8,919.8 L397.8,921.8 L398.8,918.8 L399.8,920.8 L400.8,921.5 L401.8,920.1 L402.8,920.6 L403.8,922.8 L404.8,921.2 L405.8,917.9 L406.8,919.2 L407.8,919.7 L408.8,917.3 L409.8,916.4 L410.8,917.8 L411.8,918.4 L412.8,916.5 L413.8,914.2 L414.8,915.6 L415.8,916.2 L416.8,914.8 L417.8,915.3 L418.8,915.0 L419.8,916.7 L420.8,915.1 L421.8,915.1 L422.8,914.6 L423.8,915.7 L424.8,915.3 L425.8,914.7 L426.8,914.9 L427.8,911.5 L428.8,913.0 L429.8,912.0 L430.8,912.9 L431.8,912.7 L432.8,911.0 L433.8,912.7 L434.8,910.8 L435.8,911.2 L436.8,911.8 L437.8,908.7 L438.8,911.3 L439.8,911.9 L440.8,910.6 L441.8,909.9 L442.8,909.6 L443.8,909.2 L444.8,909.4 L445.8,909.4 L446.8,910.0 L447.8,907.8 L448.8,908.5 L449.8,907.3 L450.8,910.0 L451.8,909.2 L452.8,909.2 L453.8,907.1 L454.8,906.1 L455.8,905.3 L456.8,905.4 L457.8,906.2 L458.8,906.6 L459.8,905.6 L460.8,903.8 L461.8,904.3 L462.8,903.4 L463.8,902.0 L464.8,901.5 L465.8,903.6 L466.8,904.3 L467.8,902.4 L468.8,902.0 L469.8,901.1 L470.8,904.5 L471.8,905.2 L472.8,903.5 L473.8,901.8 L474.8,903.8 L475.8,903.6 L476.8,903.9 L477.8,903.7 L478.8,904.0 L479.8,904.2 L480.8,903.7 L481.8,900.1 L482.8,901.6 L483.8,901.7 L484.8,901.3 L485.8,899.2 L486.8,901.4 L487.8,902.2 L488.8,900.8 L489.8,898.7 L490.8,900.6 L491.8,899.6 L492.8,899.1 L493.8,896.5 L494.8,895.7 L495.8,898.3 L496.8,898.6 L497.8,899.8 L498.8,900.2 L499.8,898.3 L500.8,897.5 L501.8,896.1 L502.8,896.1 L503.8,892.1 L504.8,896.3 L505.8,895.8 L506.8,897.7 L507.8,896.1 L508.8,895.6 L509.8,897.1 L510.8,898.0 L511.8,898.4 L512.8,898.4 L513.8,896.2 L514.8,898.1 L515.8,897.5 L516.8,895.6 L517.8,894.8 L518.8,895.9 L519.8,894.7 L520.8,894.6 L521.8,895.0 L522.8,894.9 L523.8,892.3 L524.8,893.4 L525.8,896.1 L526.8,894.4 L527.8,894.0 L528.8,894.4 L529.8,894.2 L530.8,894.9 L531.8,894.8 L532.8,894.2 L533.8,893.8 L534.8,893.1 L535.8,893.9 L536.8,894.2 L537.8,894.0 L538.8,893.9 L539.8,892.6 L540.8,890.7 L541.8,892.7 L542.8,891.7 L543.8,891.3 L544.8,892.4 L545.8,893.6 L546.8,893.0 L547.8,892.0 L548.8,891.6 L549.8,892.6 L550.8,891.8 L551.8,891.6 L552.8,891.5 L553.8,891.4 L554.8,890.1 L555.8,891.1 L556.8,892.0 L557.8,887.1 L558.8,891.7 L559.8,889.6 L560.8,889.0 L561.8,887.4 L562.8,888.5 L563.8,889.2 L564.8,889.3 L565.8,887.1 L566.8,887.8 L567.8,888.4 L568.8,890.0 L569.8,890.0 L570.8,890.0 L571.8,886.9 L572.8,885.7 L573.8,887.3 L574.8,887.3 L575.8,887.7 L576.8,885.2 L577.8,886.8 L578.8,887.3 L579.8,885.9 L580.8,884.4 L581.8,885.5 L582.8,885.2 L583.8,885.7 L584.8,884.7 L585.8,884.3 L586.8,884.8 L587.8,884.7 L588.8,882.1 L589.8,883.5 L590.8,882.0 L591.8,883.1 L592.8,884.1 L593.8,880.6 L594.8,883.0 L595.8,881.3 L596.8,881.3 L597.8,883.3 L598.8,882.4 L599.8,880.4 L600.8,881.4 L601.8,881.2 L602.8,881.9 L603.8,880.8 L604.8,876.2 L605.8,877.3 L606.8,879.2 L607.8,878.5 L608.8,880.7 L609.8,880.0 L610.8,879.6 L611.8,877.6 L612.8,878.1 L613.8,876.0 L614.8,877.1 L615.8,878.1 L616.8,878.2 L617.8,876.6 L618.8,873.5 L619.8,871.8 L620.8,875.0 L621.8,876.8 L622.8,876.0 L623.8,875.9 L624.8,875.6 L625.8,874.9 L626.8,873.6 L627.8,874.8 L628.8,874.7 L629.8,874.2 L630.8,873.5 L631.8,873.2 L632.8,872.7 L633.8,874.0 L634.8,874.0 L635.8,873.1 L636.8,871.4 L637.8,871.6 L638.8,872.0 L639.8,871.1 L640.8,871.3 L641.8,870.7 L642.8,870.5 L643.8,871.2 L644.8,871.0 L645.8,871.7 L646.8,870.8 L647.8,870.9 L648.8,870.3 L649.8,867.0 L650.8,867.7 L651.8,868.0 L652.8,868.4 L653.8,867.9 L654.8,865.3 L655.8,869.2 L656.8,868.6 L657.8,867.3 L658.8,866.9 L659.8,864.6 L660.8,863.7 L661.8,863.3 L662.8,863.1 L663.8,865.5 L664.8,864.7 L665.8,864.6 L666.8,861.6 L667.8,862.6 L668.8,862.4 L669.8,863.4 L670.8,863.6 L671.8,865.1 L672.8,863.4 L673.8,862.1 L674.8,858.0 L675.8,858.8 L676.8,863.2 L677.8,863.6 L678.8,861.4 L679.8,863.9 L680.8,862.8 L681.8,863.1 L682.8,861.2 L683.8,861.8 L684.8,863.6 L685.8,863.3 L686.8,863.2 L687.8,862.5 L688.8,861.4 L689.8,859.9 L690.8,859.2 L691.8,859.6 L692.8,860.6 L693.8,860.2 L694.8,857.8 L695.8,858.4 L696.8,855.7 L697.8,858.8 L698.8,859.8 L699.8,858.9 L700.8,859.3 L701.8,858.9 L702.8,859.3 L703.8,860.1 L704.8,857.2 L705.8,857.6 L706.8,857.9 L707.8,858.1 L708.8,860.3 L709.8,857.7 L710.8,857.3 L711.8,858.4 L712.8,857.6 L713.8,854.8 L714.8,854.3 L715.8,855.5 L716.8,855.3 L717.8,855.9 L718.8,856.1 L719.8,856.6 L720.8,855.4 L721.8,855.8 L722.8,856.9 L723.8,856.4 L724.8,852.7 L725.8,855.2 L726.8,856.0 L727.8,855.1 L728.8,853.2 L729.8,854.2 L730.8,854.0 L731.8,852.3 L732.8,853.9 L733.8,851.4 L734.8,855.7 L735.8,855.0 L736.8,856.0 L737.8,855.2 L738.8,853.5 L739.8,854.4 L740.8,854.8 L741.8,852.7 L742.8,854.8 L743.8,853.2 L744.8,852.4 L745.8,853.8 L746.8,855.5 L747.8,855.1 L748.8,853.2 L749.8,853.1 L750.8,853.5 L751.8,853.2 L752.8,854.9 L753.8,855.4 L754.8,855.1 L755.8,856.1 L756.8,854.5 L757.8,853.6 L758.8,854.3 L759.8,854.4 L760.8,855.8 L761.8,856.5 L762.8,854.0 L763.8,853.4 L764.8,853.4 L765.8,852.7 L766.8,855.2 L767.8,851.3 L768.8,852.4 L769.8,853.2 L770.8,855.9 L771.8,856.4 L772.8,854.3 L773.8,853.3 L774.8,854.6 L775.8,854.6 L776.8,853.5 L777.8,853.6 L778.8,853.5 L779.8,853.1 L780.8,852.1 L781.8,853.9 L782.8,855.5 L783.8,855.6 L784.8,855.2 L785.8,852.8 L786.8,853.1 L787.8,854.9 L788.8,854.5 L789.8,853.6 L790.8,854.1 L791.8,854.8 L792.8,853.2 L793.8,852.6 L794.8,854.6 L795.8,852.2 L796.8,853.1 L797.8,855.0 L798.8,851.0 L799.8,854.9 L800.8,854.8 L801.8,854.4 L802.8,854.8 L803.8,855.0 L804.8,854.6 L805.8,854.2 L806.8,854.1 L807.8,854.3 L808.8,854.4 L809.8,855.3 L810.8,855.3 L811.8,854.6 L812.8,854.8 L813.8,851.6 L814.8,853.7 L815.8,852.6 L816.8,854.8 L817.8,855.1 L818.8,854.2 L819.8,853.8 L820.8,854.4 L821.8,853.7 L822.8,854.2 L823.8,854.2 L824.8,850.5 L825.8,854.0 L826.8,854.7 L827.8,855.0 L828.8,854.2 L829.8,853.9 L830.8,853.7 L831.8,854.6 L832.8,855.4 L833.8,853.2 L834.8,853.1 L835.8,854.3 L836.8,854.7 L837.8,854.5 L838.8,855.3 L839.8,853.0 L840.8,854.7 L841.8,855.2 L842.8,854.8 L843.8,853.7 L844.8,853.7 L845.8,851.6 L846.8,851.6 L847.8,853.5 L848.8,853.7 L849.8,855.1 L850.8,852.7 L851.8,853.2 L852.8,854.0 L853.8,854.5 L854.8,853.9 L855.8,853.6 L856.8,853.8 L857.8,853.0 L858.8,854.4 L859.8,854.2 L860.8,853.7 L861.8,853.6 L862.8,854.0 L863.8,853.6 L864.8,853.2 L865.8,852.7 L866.8,853.7 L867.8,851.1 L868.8,853.8 L869.8,853.5 L870.8,853.8 L871.8,854.0 L872.8,854.1 L873.8,853.6 L874.8,853.5 L875.8,854.1 L876.8,853.3 L877.8,854.6 L878.8,854.7 L879.8,855.2 L880.8,853.0 L881.8,853.6 L882.8,853.4 L883.8,854.0 L884.8,854.8 L884.8,862.0 L883.8,861.8 L882.8,861.2 L881.8,862.3 L880.8,863.1 L879.8,863.8 L878.8,862.3 L877.8,862.1 L876.8,862.4 L875.8,862.8 L874.8,860.9 L873.8,864.0 L872.8,862.7 L871.8,861.9 L870.8,862.1 L869.8,861.5 L868.8,862.2 L867.8,861.8 L866.8,862.0 L865.8,860.6 L864.8,861.9 L863.8,863.0 L862.8,862.4 L861.8,862.2 L860.8,862.6 L859.8,862.7 L858.8,861.8 L857.8,863.2 L856.8,862.4 L855.8,861.7 L854.8,862.2 L853.8,862.2 L852.8,861.6 L851.8,862.3 L850.8,861.9 L849.8,863.7 L848.8,864.5 L847.8,860.9 L846.8,860.2 L845.8,860.9 L844.8,861.6 L843.8,862.6 L842.8,863.6 L841.8,862.5 L840.8,863.0 L839.8,863.8 L838.8,863.1 L837.8,862.3 L836.8,862.3 L835.8,862.4 L834.8,860.6 L833.8,861.4 L832.8,863.2 L831.8,863.7 L830.8,861.3 L829.8,861.5 L828.8,862.4 L827.8,863.5 L826.8,863.5 L825.8,862.1 L824.8,862.4 L823.8,862.5 L822.8,862.6 L821.8,861.5 L820.8,862.6 L819.8,863.6 L818.8,863.0 L817.8,863.4 L816.8,863.9 L815.8,863.2 L814.8,862.6 L813.8,862.8 L812.8,862.3 L811.8,865.2 L810.8,863.9 L809.8,864.4 L808.8,863.4 L807.8,862.7 L806.8,864.7 L805.8,863.1 L804.8,864.5 L803.8,863.8 L802.8,863.6 L801.8,863.5 L800.8,863.8 L799.8,863.5 L798.8,864.3 L797.8,863.5 L796.8,862.3 L795.8,863.6 L794.8,862.7 L793.8,861.6 L792.8,862.1 L791.8,863.6 L790.8,864.4 L789.8,864.8 L788.8,863.9 L787.8,863.7 L786.8,863.5 L785.8,863.5 L784.8,863.7 L783.8,864.1 L782.8,865.5 L781.8,863.6 L780.8,861.6 L779.8,864.2 L778.8,864.1 L777.8,865.9 L776.8,862.9 L775.8,863.0 L774.8,862.9 L773.8,867.7 L772.8,863.8 L771.8,865.0 L770.8,865.8 L769.8,863.8 L768.8,862.3 L767.8,863.3 L766.8,864.3 L765.8,863.8 L764.8,863.1 L763.8,863.8 L762.8,866.6 L761.8,865.7 L760.8,864.3 L759.8,864.3 L758.8,864.5 L757.8,862.6 L756.8,863.9 L755.8,866.0 L754.8,864.8 L753.8,864.5 L752.8,864.4 L751.8,866.6 L750.8,862.0 L749.8,865.7 L748.8,863.7 L747.8,864.4 L746.8,865.6 L745.8,865.5 L744.8,863.5 L743.8,865.5 L742.8,863.3 L741.8,865.2 L740.8,864.1 L739.8,864.4 L738.8,863.6 L737.8,864.8 L736.8,866.0 L735.8,867.5 L734.8,864.4 L733.8,864.2 L732.8,864.2 L731.8,863.5 L730.8,864.6 L729.8,863.1 L728.8,864.3 L727.8,865.8 L726.8,865.1 L725.8,864.7 L724.8,863.9 L723.8,865.4 L722.8,865.5 L721.8,864.9 L720.8,866.2 L719.8,866.7 L718.8,866.1 L717.8,865.6 L716.8,865.7 L715.8,864.2 L714.8,864.5 L713.8,867.1 L712.8,866.2 L711.8,867.0 L710.8,868.4 L709.8,869.2 L708.8,870.5 L707.8,868.7 L706.8,867.0 L705.8,867.7 L704.8,869.8 L703.8,870.1 L702.8,869.1 L701.8,870.1 L700.8,869.3 L699.8,870.0 L698.8,871.5 L697.8,869.2 L696.8,867.3 L695.8,867.9 L694.8,871.2 L693.8,869.9 L692.8,871.8 L691.8,871.8 L690.8,870.4 L689.8,869.8 L688.8,870.2 L687.8,872.0 L686.8,872.0 L685.8,873.6 L684.8,873.9 L683.8,872.7 L682.8,871.2 L681.8,873.3 L680.8,872.0 L679.8,873.6 L678.8,873.1 L677.8,872.3 L676.8,872.3 L675.8,873.4 L674.8,871.8 L673.8,872.1 L672.8,873.0 L671.8,875.4 L670.8,874.2 L669.8,872.7 L668.8,877.1 L667.8,873.0 L666.8,872.7 L665.8,873.9 L664.8,874.9 L663.8,875.6 L662.8,873.5 L661.8,873.4 L660.8,874.0 L659.8,874.0 L658.8,876.5 L657.8,878.4 L656.8,877.8 L655.8,878.0 L654.8,879.4 L653.8,878.1 L652.8,877.7 L651.8,878.1 L650.8,878.7 L649.8,877.4 L648.8,879.7 L647.8,879.8 L646.8,881.0 L645.8,883.4 L644.8,882.1 L643.8,881.5 L642.8,880.5 L641.8,881.2 L640.8,882.9 L639.8,881.9 L638.8,884.3 L637.8,882.0 L636.8,881.9 L635.8,882.0 L634.8,882.7 L633.8,882.6 L632.8,882.4 L631.8,882.1 L630.8,884.9 L629.8,883.4 L628.8,884.7 L627.8,883.6 L626.8,885.6 L625.8,885.4 L624.8,885.7 L623.8,884.9 L622.8,885.3 L621.8,887.1 L620.8,884.8 L619.8,885.4 L618.8,884.0 L617.8,887.2 L616.8,886.8 L615.8,887.0 L614.8,890.9 L613.8,888.4 L612.8,887.4 L611.8,888.5 L610.8,889.2 L609.8,890.4 L608.8,889.9 L607.8,891.0 L606.8,888.3 L605.8,887.1 L604.8,887.6 L603.8,889.7 L602.8,891.9 L601.8,891.3 L600.8,891.3 L599.8,891.0 L598.8,891.6 L597.8,893.7 L596.8,891.6 L595.8,890.7 L594.8,892.8 L593.8,893.5 L592.8,893.0 L591.8,893.1 L590.8,894.6 L589.8,893.4 L588.8,893.6 L587.8,894.4 L586.8,896.1 L585.8,895.3 L584.8,895.2 L583.8,895.1 L582.8,896.1 L581.8,895.3 L580.8,895.1 L579.8,896.4 L578.8,897.8 L577.8,896.4 L576.8,896.6 L575.8,896.0 L574.8,899.9 L573.8,898.0 L572.8,897.1 L571.8,896.9 L570.8,899.2 L569.8,900.1 L568.8,899.3 L567.8,897.7 L566.8,896.8 L565.8,897.4 L564.8,898.4 L563.8,897.5 L562.8,897.5 L561.8,899.1 L560.8,900.9 L559.8,899.5 L558.8,900.8 L557.8,900.5 L556.8,901.1 L555.8,900.4 L554.8,900.5 L553.8,902.0 L552.8,901.3 L551.8,901.9 L550.8,902.5 L549.8,902.1 L548.8,902.1 L547.8,902.0 L546.8,903.3 L545.8,903.6 L544.8,901.3 L543.8,903.3 L542.8,902.9 L541.8,901.9 L540.8,901.8 L539.8,903.0 L538.8,903.6 L537.8,902.7 L536.8,903.2 L535.8,904.0 L534.8,904.0 L533.8,904.5 L532.8,905.1 L531.8,904.8 L530.8,904.7 L529.8,903.4 L528.8,904.7 L527.8,903.7 L526.8,905.6 L525.8,904.7 L524.8,904.6 L523.8,903.5 L522.8,904.1 L521.8,905.9 L520.8,904.9 L519.8,904.1 L518.8,905.6 L517.8,905.6 L516.8,906.2 L515.8,907.1 L514.8,907.2 L513.8,910.1 L512.8,909.4 L511.8,909.3 L510.8,907.7 L509.8,906.4 L508.8,906.8 L507.8,907.6 L506.8,907.0 L505.8,906.1 L504.8,904.7 L503.8,906.8 L502.8,906.7 L501.8,907.0 L500.8,909.5 L499.8,911.4 L498.8,909.7 L497.8,908.8 L496.8,910.9 L495.8,908.4 L494.8,908.1 L493.8,907.5 L492.8,908.0 L491.8,910.2 L490.8,909.5 L489.8,908.7 L488.8,910.6 L487.8,912.8 L486.8,914.1 L485.8,910.0 L484.8,911.8 L483.8,912.3 L482.8,911.8 L481.8,911.3 L480.8,912.5 L479.8,915.1 L478.8,913.4 L477.8,912.9 L476.8,914.7 L475.8,914.1 L474.8,914.1 L473.8,911.5 L472.8,913.2 L471.8,914.4 L470.8,913.8 L469.8,913.2 L468.8,912.6 L467.8,912.9 L466.8,912.8 L465.8,913.0 L464.8,911.1 L463.8,912.2 L462.8,912.1 L461.8,915.6 L460.8,913.8 L459.8,916.6 L458.8,916.2 L457.8,916.4 L456.8,916.3 L455.8,915.6 L454.8,915.3 L453.8,918.0 L452.8,918.5 L451.8,919.0 L450.8,919.8 L449.8,918.8 L448.8,920.7 L447.8,918.2 L446.8,920.3 L445.8,919.6 L444.8,919.1 L443.8,918.8 L442.8,918.9 L441.8,919.4 L440.8,919.7 L439.8,920.8 L438.8,921.8 L437.8,920.8 L436.8,923.4 L435.8,920.8 L434.8,923.2 L433.8,923.5 L432.8,922.0 L431.8,921.7 L430.8,922.7 L429.8,922.8 L428.8,923.8 L427.8,923.9 L426.8,924.4 L425.8,929.4 L424.8,926.1 L423.8,926.1 L422.8,925.5 L421.8,929.3 L420.8,924.9 L419.8,925.9 L418.8,925.7 L417.8,926.0 L416.8,926.2 L415.8,926.3 L414.8,924.5 L413.8,925.3 L412.8,926.2 L411.8,927.7 L410.8,929.1 L409.8,928.8 L408.8,930.9 L407.8,930.0 L406.8,929.3 L405.8,928.8 L404.8,930.6 L403.8,932.8 L402.8,931.7 L401.8,930.5 L400.8,930.1 L399.8,931.9 L398.8,931.2 L397.8,933.8 L396.8,931.9 L395.8,933.4 L394.8,934.3 L393.8,935.2 L392.8,934.2 L391.8,934.7 L390.8,935.0 L389.8,935.9 L388.8,935.5 L387.8,935.5 L386.8,936.3 L385.8,935.8 L384.8,936.6 L383.8,938.7 L382.8,941.2 L381.8,938.6 L380.8,941.1 L379.8,940.0 L378.8,941.6 L377.8,942.1 L376.8,942.8 L375.8,942.9 L374.8,943.5 L373.8,943.5 L372.8,943.5 L371.8,945.2 L370.8,948.4 L369.8,945.7 L368.8,946.7 L367.8,946.3 L366.8,946.9 L365.8,949.3 L364.8,950.5 L363.8,951.7 L362.8,950.0 L361.8,951.5 L360.8,951.4 L359.8,952.4 L358.8,952.8 L357.8,953.5 L356.8,954.9 L355.8,956.2 L354.8,955.6 L353.8,957.0 L352.8,958.3 L351.8,959.6 L350.8,959.5 L349.8,961.1 L348.8,961.4 L347.8,965.4 L346.8,961.3 L345.8,962.6 L344.8,965.6 L343.8,966.9 L342.8,967.2 L341.8,970.5 L340.8,971.5 L339.8,973.5 L338.8,972.1 L337.8,972.5 L336.8,972.6 L335.8,974.0 L334.8,975.8 L333.8,977.4 L332.8,979.0 L331.8,980.3 L330.8,983.1 L329.8,983.5 L328.8,982.9 L327.8,985.2 L326.8,986.8 L325.8,988.4 L324.8,989.2 L323.8,990.8 L322.8,991.2 L321.8,993.0 L320.8,993.9 L319.8,994.5 L318.8,996.3 L317.8,999.1 L316.8,1000.4 L315.8,1001.2 L314.8,1003.5 L313.8,1005.8 L312.8,1007.7 L311.8,1009.6 L310.8,1010.8 L309.8,1013.2 L308.8,1014.5 L307.8,1016.7 L306.8,1020.0 L305.8,1021.5 L304.8,1024.1 L303.8,1026.0 L302.8,1027.4 L301.8,1031.8 L300.8,1032.2 L299.8,1035.5 L298.8,1038.0 L297.8,1042.8 L296.8,1045.0 L295.8,1047.7 L294.8,1051.1 L293.8,1054.7 L292.8,1058.0 L291.8,1061.8 L290.8,1065.2 L289.8,1071.4 L288.8,1069.9 L287.8,1072.9 L286.8,1077.1 L285.8,1082.8 L284.8,1083.3 L283.8,1085.3 L282.8,1088.1 L281.8,1090.7 L280.8,1094.6 L279.8,1098.8 L278.8,1105.9 L277.8,1111.0 L276.8,1116.2 L275.8,1120.8 L274.8,1125.1 L273.8,1129.9 L272.8,1133.7 L271.8,1137.8 L270.8,1140.3 L269.8,1143.1 L268.8,1145.3 L267.8,1147.9 L266.8,1151.4 L265.8,1152.8 L264.8,1155.4 L263.8,1157.4 L262.8,1159.2 L261.8,1161.6 L260.8,1163.1 L259.8,1165.1 L258.8,1168.2 L257.8,1170.8 L256.8,1171.7 L255.8,1174.4 L254.8,1176.7 L253.8,1177.4 L252.8,1179.7 L251.8,1180.6 L250.8,1183.7 L249.8,1183.7 L248.8,1185.2 L247.8,1186.3 L246.8,1188.1 L245.8,1189.3 L244.8,1190.5 L243.8,1192.1 L242.8,1194.1 L241.8,1194.1 L240.8,1195.7 L239.8,1197.8 L238.8,1198.7 L237.8,1199.6 L236.8,1200.2 L235.8,1201.3 L234.8,1202.5 L233.8,1203.7 L232.8,1205.2 L231.8,1206.1 L230.8,1206.3 L229.8,1207.1 L228.8,1207.8 L227.8,1209.5 L226.8,1210.9 L225.8,1211.5 L224.8,1213.8 L223.8,1214.6 L222.8,1213.6 L221.8,1214.2 L220.8,1214.8 L219.8,1215.1 L218.8,1216.9 L217.8,1216.8 L216.8,1218.3 L215.8,1219.0 L214.8,1219.9 L213.8,1219.4 L212.8,1217.9 L211.8,1219.1 L210.8,1219.1 L209.8,1220.7 L208.8,1221.9 L207.8,1222.7 L206.8,1222.9 L205.8,1225.4 L204.8,1224.8 L203.8,1225.2 L202.8,1225.7 L201.8,1224.0 L200.8,1226.8 L199.8,1225.9 L198.8,1226.5 L197.8,1227.6 L196.8,1228.4 L195.8,1229.4 L194.8,1228.0 L193.8,1228.2 L192.8,1228.0 L191.8,1228.5 L190.8,1228.9 L189.8,1230.5 L188.8,1230.3 L187.8,1231.0 L186.8,1230.8 L185.8,1228.8 L184.8,1230.4 L183.8,1229.3 L182.8,1229.1 L181.8,1229.3 L180.8,1233.1 L179.8,1229.5 L178.8,1229.2 L177.8,1229.3 L176.8,1231.2 L175.8,1230.3 L174.8,1230.0 L173.8,1229.6 L172.8,1230.4 L171.8,1229.9 L170.8,1229.0 L169.8,1229.6 L168.8,1232.5 L167.8,1231.8 L166.8,1229.7 L165.8,1229.4 L164.8,1229.7 L163.8,1229.5 L162.8,1228.6 L161.8,1228.3 L160.8,1228.5 L159.8,1227.6 Z" fill="#0a50ff"/>
<line x1="273.70" y1="1232.10" x2="273.70" y2="1208.70" stroke="#000000" stroke-width="5.2" />
<line x1="273.70" y1="1185.04" x2="273.70" y2="1161.64" stroke="#000000" stroke-width="5.2" />
<line x1="273.70" y1="1137.98" x2="273.70" y2="1114.58" stroke="#000000" stroke-width="5.2" />
<line x1="273.70" y1="1090.92" x2="273.70" y2="1067.52" stroke="#000000" stroke-width="5.2" />
<line x1="273.70" y1="1043.86" x2="273.70" y2="1020.46" stroke="#000000" stroke-width="5.2" />
<line x1="273.70" y1="996.80" x2="273.70" y2="973.40" stroke="#000000" stroke-width="5.2" />
<line x1="273.70" y1="949.74" x2="273.70" y2="926.34" stroke="#000000" stroke-width="5.2" />
<line x1="273.70" y1="902.68" x2="273.70" y2="879.28" stroke="#000000" stroke-width="5.2" />
<line x1="273.70" y1="855.62" x2="273.70" y2="832.22" stroke="#000000" stroke-width="5.2" />
<line x1="273.70" y1="808.56" x2="273.70" y2="785.16" stroke="#000000" stroke-width="5.2" />
<rect x="321.10" y="781.20" width="5.2" height="5" fill="#ff0000"/>
<rect x="321.10" y="797.70" width="5.2" height="5" fill="#ff0000"/>
<rect x="321.10" y="814.20" width="5.2" height="5" fill="#ff0000"/>
<rect x="321.10" y="830.70" width="5.2" height="5" fill="#ff0000"/>
<rect x="321.10" y="847.20" width="5.2" height="5" fill="#ff0000"/>
<rect x="321.10" y="863.70" width="5.2" height="5" fill="#ff0000"/>
<rect x="321.10" y="880.20" width="5.2" height="5" fill="#ff0000"/>
<rect x="321.10" y="896.70" width="5.2" height="5" fill="#ff0000"/>
<rect x="321.10" y="913.20" width="5.2" height="5" fill="#ff0000"/>
<rect x="321.10" y="929.70" width="5.2" height="5" fill="#ff0000"/>
<rect x="321.10" y="946.20" width="5.2" height="5" fill="#ff0000"/>
<rect x="321.10" y="962.70" width="5.2" height="5" fill="#ff0000"/>
<rect x="321.10" y="979.20" width="5.2" height="5" fill="#ff0000"/>
<rect x="321.10" y="995.70" width="5.2" height="5" fill="#ff0000"/>
<rect x="321.10" y="1012.20" width="5.2" height="5" fill="#ff0000"/>
<rect x="321.10" y="1028.70" width="5.2" height="5" fill="#ff0000"/>
<rect x="321.10" y="1045.20" width="5.2" height="5" fill="#ff0000"/>
<rect x="321.10" y="1061.70" width="5.2" height="5" fill="#ff0000"/>
<rect x="321.10" y="1078.20" width="5.2" height="5" fill="#ff0000"/>
<rect x="321.10" y="1094.70" width="5.2" height="5" fill="#ff0000"/>
<rect x="321.10" y="1111.20" width="5.2" height="5" fill="#ff0000"/>
<rect x="321.10" y="1127.70" width="5.2" height="5" fill="#ff0000"/>
<rect x="321.10" y="1144.20" width="5.2" height="5" fill="#ff0000"/>
<rect x="321.10" y="1160.70" width="5.2" height="5" fill="#ff0000"/>
<rect x="321.10" y="1177.20" width="5.2" height="5" fill="#ff0000"/>
<rect x="321.10" y="1193.70" width="5.2" height="5" fill="#ff0000"/>
<rect x="321.10" y="1210.20" width="5.2" height="5" fill="#ff0000"/>
<rect x="321.10" y="1226.70" width="5.2" height="5" fill="#ff0000"/>
<rect x="555.20" y="781.20" width="5.2" height="5" fill="#0a50ff"/>
<rect x="555.20" y="797.70" width="5.2" height="5" fill="#0a50ff"/>
<rect x="555.20" y="814.20" width="5.2" height="5" fill="#0a50ff"/>
<rect x="555.20" y="830.70" width="5.2" height="5" fill="#0a50ff"/>
<rect x="555.20" y="847.20" width="5.2" height="5" fill="#0a50ff"/>
<rect x="555.20" y="863.70" width="5.2" height="5" fill="#0a50ff"/>
<rect x="555.20" y="880.20" width="5.2" height="5" fill="#0a50ff"/>
<rect x="555.20" y="896.70" width="5.2" height="5" fill="#0a50ff"/>
<rect x="555.20" y="913.20" width="5.2" height="5" fill="#0a50ff"/>
<rect x="555.20" y="929.70" width="5.2" height="5" fill="#0a50ff"/>
<rect x="555.20" y="946.20" width="5.2" height="5" fill="#0a50ff"/>
<rect x="555.20" y="962.70" width="5.2" height="5" fill="#0a50ff"/>
<rect x="555.20" y="979.20" width="5.2" height="5" fill="#0a50ff"/>
<rect x="555.20" y="995.70" width="5.2" height="5" fill="#0a50ff"/>
<rect x="555.20" y="1012.20" width="5.2" height="5" fill="#0a50ff"/>
<rect x="555.20" y="1028.70" width="5.2" height="5" fill="#0a50ff"/>
<rect x="555.20" y="1045.20" width="5.2" height="5" fill="#0a50ff"/>
<rect x="555.20" y="1061.70" width="5.2" height="5" fill="#0a50ff"/>
<rect x="555.20" y="1078.20" width="5.2" height="5" fill="#0a50ff"/>
<rect x="555.20" y="1094.70" width="5.2" height="5" fill="#0a50ff"/>
<rect x="555.20" y="1111.20" width="5.2" height="5" fill="#0a50ff"/>
<rect x="555.20" y="1127.70" width="5.2" height="5" fill="#0a50ff"/>
<rect x="555.20" y="1144.20" width="5.2" height="5" fill="#0a50ff"/>
<rect x="555.20" y="1160.70" width="5.2" height="5" fill="#0a50ff"/>
<rect x="555.20" y="1177.20" width="5.2" height="5" fill="#0a50ff"/>
<rect x="555.20" y="1193.70" width="5.2" height="5" fill="#0a50ff"/>
<rect x="555.20" y="1210.20" width="5.2" height="5" fill="#0a50ff"/>
<rect x="555.20" y="1226.70" width="5.2" height="5" fill="#0a50ff"/>
<path d="M84.42,780.04 L84.42,778.66 L85.75,775.88 L87.07,774.50 L89.72,773.12 L95.01,773.12 L97.65,774.50 L98.98,775.88 L100.30,778.66 L100.30,781.43 L98.98,784.20 L96.33,788.35 L83.10,802.20 L101.62,802.20" fill="none" stroke="#000000" stroke-width="5.0" stroke-linejoin="round"/>
<path d="M113.30,805.10 L108.40,800.30 L110.80,797.30 L113.30,798.50 L115.80,797.30 L118.20,800.30 Z" fill="#000000" stroke="#000000" stroke-width="0.5" stroke-linejoin="round"/>
<path d="M140.77,773.12 L127.59,773.12 L126.28,785.58 L127.59,784.20 L131.54,782.81 L135.50,782.81 L139.45,784.20 L142.08,786.97 L143.40,791.12 L143.40,793.89 L142.08,798.05 L139.45,800.82 L135.50,802.20 L131.54,802.20 L127.59,800.82 L126.28,799.43 L124.96,796.66" fill="none" stroke="#000000" stroke-width="5.0" stroke-linejoin="round"/>
<path d="M84.42,860.18 L84.42,858.80 L85.75,856.02 L87.07,854.64 L89.72,853.25 L95.01,853.25 L97.65,854.64 L98.98,856.02 L100.30,858.80 L100.30,861.57 L98.98,864.34 L96.33,868.49 L83.10,882.34 L101.62,882.34" fill="none" stroke="#000000" stroke-width="5.0" stroke-linejoin="round"/>
<path d="M113.30,885.24 L108.40,880.44 L110.80,877.44 L113.30,878.64 L115.80,877.44 L118.20,880.44 Z" fill="#000000" stroke="#000000" stroke-width="0.5" stroke-linejoin="round"/>
<path d="M132.51,853.25 L128.36,854.64 L125.59,858.80 L124.20,865.72 L124.20,869.88 L125.59,876.80 L128.36,880.96 L132.51,882.34 L135.29,882.34 L139.44,880.96 L142.21,876.80 L143.60,869.88 L143.60,865.72 L142.21,858.80 L139.44,854.64 L135.29,853.25 Z" fill="none" stroke="#000000" stroke-width="5.0" stroke-linejoin="round"/>
<path d="M87.05,950.64 L90.03,949.25 L94.50,945.10 L94.50,974.18" fill="none" stroke="#000000" stroke-width="5.0" stroke-linejoin="round"/>
<path d="M113.30,977.08 L108.40,972.28 L110.80,969.28 L113.30,970.48 L115.80,969.28 L118.20,972.28 Z" fill="#000000" stroke="#000000" stroke-width="0.5" stroke-linejoin="round"/>
<path d="M140.77,945.10 L127.59,945.10 L126.28,957.56 L127.59,956.18 L131.54,954.79 L135.50,954.79 L139.45,956.18 L142.08,958.95 L143.40,963.10 L143.40,965.87 L142.08,970.03 L139.45,972.80 L135.50,974.18 L131.54,974.18 L127.59,972.80 L126.28,971.41 L124.96,968.64" fill="none" stroke="#000000" stroke-width="5.0" stroke-linejoin="round"/>
<path d="M87.05,1042.47 L90.03,1041.09 L94.50,1036.93 L94.50,1066.02" fill="none" stroke="#000000" stroke-width="5.0" stroke-linejoin="round"/>
<path d="M113.30,1068.92 L108.40,1064.12 L110.80,1061.12 L113.30,1062.32 L115.80,1061.12 L118.20,1064.12 Z" fill="#000000" stroke="#000000" stroke-width="0.5" stroke-linejoin="round"/>
<path d="M132.51,1036.93 L128.36,1038.32 L125.59,1042.47 L124.20,1049.40 L124.20,1053.56 L125.59,1060.48 L128.36,1064.63 L132.51,1066.02 L135.29,1066.02 L139.44,1064.63 L142.21,1060.48 L143.60,1053.56 L143.60,1049.40 L142.21,1042.47 L139.44,1038.32 L135.29,1036.93 Z" fill="none" stroke="#000000" stroke-width="5.0" stroke-linejoin="round"/>
<path d="M90.99,1128.78 L86.74,1130.16 L83.91,1134.32 L82.50,1141.24 L82.50,1145.40 L83.91,1152.32 L86.74,1156.48 L90.99,1157.86 L93.81,1157.86 L98.06,1156.48 L100.89,1152.32 L102.30,1145.40 L102.30,1141.24 L100.89,1134.32 L98.06,1130.16 L93.81,1128.78 Z" fill="none" stroke="#000000" stroke-width="5.0" stroke-linejoin="round"/>
<path d="M113.30,1160.76 L108.40,1155.96 L110.80,1152.96 L113.30,1154.16 L115.80,1152.96 L118.20,1155.96 Z" fill="#000000" stroke="#000000" stroke-width="0.5" stroke-linejoin="round"/>
<path d="M140.77,1128.78 L127.59,1128.78 L126.28,1141.24 L127.59,1139.86 L131.54,1138.47 L135.50,1138.47 L139.45,1139.86 L142.08,1142.63 L143.40,1146.78 L143.40,1149.55 L142.08,1153.71 L139.45,1156.48 L135.50,1157.86 L131.54,1157.86 L127.59,1156.48 L126.28,1155.09 L124.96,1152.32" fill="none" stroke="#000000" stroke-width="5.0" stroke-linejoin="round"/>
<path d="M90.99,1204.41 L86.74,1205.80 L83.91,1209.95 L82.50,1216.88 L82.50,1221.04 L83.91,1227.96 L86.74,1232.12 L90.99,1233.50 L93.81,1233.50 L98.06,1232.12 L100.89,1227.96 L102.30,1221.04 L102.30,1216.88 L100.89,1209.95 L98.06,1205.80 L93.81,1204.41 Z" fill="none" stroke="#000000" stroke-width="5.0" stroke-linejoin="round"/>
<path d="M113.30,1236.40 L108.40,1231.60 L110.80,1228.60 L113.30,1229.80 L115.80,1228.60 L118.20,1231.60 Z" fill="#000000" stroke="#000000" stroke-width="0.5" stroke-linejoin="round"/>
<path d="M132.51,1204.41 L128.36,1205.80 L125.59,1209.95 L124.20,1216.88 L124.20,1221.04 L125.59,1227.96 L128.36,1232.12 L132.51,1233.50 L135.29,1233.50 L139.44,1232.12 L142.21,1227.96 L143.60,1221.04 L143.60,1216.88 L142.21,1209.95 L139.44,1205.80 L135.29,1204.41 Z" fill="none" stroke="#000000" stroke-width="5.0" stroke-linejoin="round"/>
<path d="M159.61,1266.21 L155.31,1267.60 L152.44,1271.75 L151.00,1278.68 L151.00,1282.84 L152.44,1289.76 L155.31,1293.91 L159.61,1295.30 L162.49,1295.30 L166.79,1293.91 L169.66,1289.76 L171.10,1282.84 L171.10,1278.68 L169.66,1271.75 L166.79,1267.60 L162.49,1266.21 Z" fill="none" stroke="#000000" stroke-width="5.0" stroke-linejoin="round"/>
<line x1="271.70" y1="1282.56" x2="297.20" y2="1282.56" stroke="#000000" stroke-width="5.0"/>
<path d="M308.44,1273.14 L308.44,1271.75 L309.78,1268.98 L311.12,1267.60 L313.79,1266.21 L319.15,1266.21 L321.82,1267.60 L323.16,1268.98 L324.50,1271.75 L324.50,1274.52 L323.16,1277.29 L320.48,1281.45 L307.10,1295.30 L325.84,1295.30" fill="none" stroke="#000000" stroke-width="5.0" stroke-linejoin="round"/>
<line x1="409.50" y1="1282.56" x2="434.80" y2="1282.56" stroke="#000000" stroke-width="5.0"/>
<path d="M457.27,1266.21 L442.20,1285.61 L464.80,1285.61 M457.27,1266.21 L457.27,1295.30" fill="none" stroke="#000000" stroke-width="5.0" stroke-linejoin="round"/>
<line x1="547.00" y1="1282.56" x2="572.60" y2="1282.56" stroke="#000000" stroke-width="5.0"/>
<path d="M600.16,1270.37 L598.72,1267.60 L594.41,1266.21 L591.53,1266.21 L587.22,1267.60 L584.34,1271.75 L582.90,1278.68 L582.90,1285.61 L584.34,1291.14 L587.22,1293.91 L591.53,1295.30 L592.97,1295.30 L597.28,1293.91 L600.16,1291.14 L601.60,1286.99 L601.60,1285.61 L600.16,1281.45 L597.28,1278.68 L592.97,1277.29 L591.53,1277.29 L587.22,1278.68 L584.34,1281.45 L582.90,1285.61" fill="none" stroke="#000000" stroke-width="5.0" stroke-linejoin="round"/>
<line x1="684.80" y1="1282.56" x2="709.80" y2="1282.56" stroke="#000000" stroke-width="5.0"/>
<path d="M726.04,1266.21 L721.81,1267.60 L720.41,1270.37 L720.41,1273.14 L721.81,1275.91 L724.63,1277.29 L730.26,1278.68 L734.48,1280.07 L737.29,1282.84 L738.70,1285.61 L738.70,1289.76 L737.29,1292.53 L735.89,1293.91 L731.66,1295.30 L726.04,1295.30 L721.81,1293.91 L720.41,1292.53 L719.00,1289.76 L719.00,1285.61 L720.41,1282.84 L723.22,1280.07 L727.44,1278.68 L733.07,1277.29 L735.89,1275.91 L737.29,1273.14 L737.29,1270.37 L735.89,1267.60 L731.66,1266.21 Z" fill="none" stroke="#000000" stroke-width="5.0" stroke-linejoin="round"/>
<line x1="808.30" y1="1282.56" x2="833.60" y2="1282.56" stroke="#000000" stroke-width="5.0"/>
<path d="M847.59,1271.75 L850.15,1270.37 L854.00,1266.21 L854.00,1295.30" fill="none" stroke="#000000" stroke-width="5.0" stroke-linejoin="round"/>
<path d="M876.21,1266.21 L871.76,1267.60 L868.79,1271.75 L867.30,1278.68 L867.30,1282.84 L868.79,1289.76 L871.76,1293.91 L876.21,1295.30 L879.19,1295.30 L883.64,1293.91 L886.61,1289.76 L888.10,1282.84 L888.10,1278.68 L886.61,1271.75 L883.64,1267.60 L879.19,1266.21 Z" fill="none" stroke="#000000" stroke-width="5.0" stroke-linejoin="round"/>
<path d="M274.20,1320.32 L274.20,1349.40 M274.20,1320.32 L285.60,1349.40 M297.00,1320.32 L285.60,1349.40 M297.00,1320.32 L297.00,1349.40" fill="none" stroke="#000000" stroke-width="5.0" stroke-linejoin="round"/>
<path d="M305.50,1352.96 L305.50,1370.60 M305.50,1352.96 L312.00,1352.96 L314.79,1353.80 L316.64,1355.48 L317.57,1357.16 L318.50,1359.68 L318.50,1363.88 L317.57,1366.40 L316.64,1368.08 L314.79,1369.76 L312.00,1370.60 L305.50,1370.60" fill="none" stroke="#000000" stroke-width="5.0" stroke-linejoin="round"/>
<line x1="346.80" y1="1331.40" x2="373.00" y2="1331.40" stroke="#000000" stroke-width="5.0"/>
<line x1="346.80" y1="1340.40" x2="373.00" y2="1340.40" stroke="#000000" stroke-width="5.0"/>
<path d="M405.50,1320.32 L405.50,1349.40" fill="none" stroke="#000000" stroke-width="5.0" stroke-linejoin="round"/>
<path d="M422.49,1330.01 L419.42,1331.39 L416.34,1334.17 L414.80,1338.32 L414.80,1341.09 L416.34,1345.25 L419.42,1348.02 L422.49,1349.40 L427.11,1349.40 L430.18,1348.02 L433.26,1345.25 L434.80,1341.09 L434.80,1338.32 L433.26,1334.17 L430.18,1331.39 L427.11,1330.01 Z" fill="none" stroke="#000000" stroke-width="5.0" stroke-linejoin="round"/>
<path d="M458.60,1330.01 L458.60,1352.17 L457.28,1356.33 L455.97,1357.71 L453.33,1359.10 L449.38,1359.10 L446.75,1357.71 M458.60,1334.17 L455.97,1331.39 L453.33,1330.01 L449.38,1330.01 L446.75,1331.39 L444.12,1334.17 L442.80,1338.32 L442.80,1341.09 L444.12,1345.25 L446.75,1348.02 L449.38,1349.40 L453.33,1349.40 L455.97,1348.02 L458.60,1345.25" fill="none" stroke="#000000" stroke-width="5.0" stroke-linejoin="round"/>
<path d="M468.62,1356.32 L470.49,1355.48 L473.30,1352.96 L473.30,1370.60" fill="none" stroke="#000000" stroke-width="5.0" stroke-linejoin="round"/>
<path d="M487.91,1352.96 L484.96,1353.80 L482.99,1356.32 L482.00,1360.52 L482.00,1363.04 L482.99,1367.24 L484.96,1369.76 L487.91,1370.60 L489.89,1370.60 L492.84,1369.76 L494.81,1367.24 L495.80,1363.04 L495.80,1360.52 L494.81,1356.32 L492.84,1353.80 L489.89,1352.96 Z" fill="none" stroke="#000000" stroke-width="5.0" stroke-linejoin="round"/>
<path d="M512.94,1313.53 L510.04,1316.39 L507.15,1320.70 L504.25,1326.44 L502.80,1333.62 L502.80,1339.36 L504.25,1346.53 L507.15,1352.27 L510.04,1356.58 L512.94,1359.45" fill="none" stroke="#000000" stroke-width="5.0" stroke-linejoin="round"/>
<path d="M525.43,1325.86 L528.50,1324.47 L533.10,1320.32 L533.10,1349.40" fill="none" stroke="#000000" stroke-width="5.0" stroke-linejoin="round"/>
<line x1="572.10" y1="1335.90" x2="597.40" y2="1335.90" stroke="#000000" stroke-width="5.0"/>
<path d="M629.90,1320.32 L629.90,1349.40 M629.90,1320.32 L641.30,1349.40 M652.70,1320.32 L641.30,1349.40 M652.70,1320.32 L652.70,1349.40" fill="none" stroke="#000000" stroke-width="5.0" stroke-linejoin="round"/>
<path d="M662.00,1358.84 L662.00,1370.60 M662.00,1363.88 L662.89,1361.36 L664.66,1359.68 L666.44,1358.84 L669.10,1358.84" fill="none" stroke="#000000" stroke-width="5.0" stroke-linejoin="round"/>
<line x1="671.80" y1="1359.70" x2="696.00" y2="1314.00" stroke="#000000" stroke-width="5.0" />
<path d="M704.70,1320.32 L704.70,1349.40 M704.70,1320.32 L716.10,1349.40 M727.50,1320.32 L716.10,1349.40 M727.50,1320.32 L727.50,1349.40" fill="none" stroke="#000000" stroke-width="5.0" stroke-linejoin="round"/>
<circle cx="746.0" cy="1361.10" r="9.3" fill="none" stroke="#000" stroke-width="4.4"/>
<circle cx="746.0" cy="1361.10" r="3.4" fill="#000"/>
<path d="M759.76,1313.53 L762.66,1316.39 L765.55,1320.70 L768.45,1326.44 L769.90,1333.62 L769.90,1339.36 L768.45,1346.53 L765.55,1352.27 L762.66,1356.58 L759.76,1359.45" fill="none" stroke="#000000" stroke-width="5.0" stroke-linejoin="round"/>
<path d="M14.68,1122.15 L12.61,1123.36 L11.91,1125.79 L11.91,1128.22 L13.30,1130.65 L15.38,1131.26 L17.45,1130.65 L20.23,1128.22 L23.69,1123.36 L26.46,1120.32 L29.92,1118.50 L33.38,1118.50 L36.84,1119.72 L39.62,1122.15 L41.00,1124.58 L41.00,1128.22 L39.62,1130.65 L36.84,1133.08 L33.38,1134.30 L30.61,1134.30 L27.15,1133.08 L24.38,1130.65 L23.00,1127.62 L23.00,1124.58 L24.38,1122.15" fill="none" stroke="#000000" stroke-width="5.0" stroke-linejoin="round"/>
<path d="M11.91,1108.20 L41.00,1108.20 M11.91,1108.20 L11.91,1095.73 L13.30,1091.57 L14.68,1090.19 L17.45,1088.80 L20.23,1088.80 L23.00,1090.19 L24.38,1091.57 L25.77,1095.73 L25.77,1108.20 M25.77,1098.50 L41.00,1088.80" fill="none" stroke="#000000" stroke-width="5.0" stroke-linejoin="round"/>
<line x1="6.60" y1="1056.40" x2="51.30" y2="1082.10" stroke="#000000" stroke-width="5.0" />
<path d="M11.91,1049.30 L41.00,1049.30 M11.91,1049.30 L11.91,1036.38 L13.30,1032.07 L14.68,1030.64 L17.45,1029.20 L20.23,1029.20 L23.00,1030.64 L24.38,1032.07 L25.77,1036.38 L25.77,1049.30 M25.77,1039.25 L41.00,1029.20" fill="none" stroke="#000000" stroke-width="5.0" stroke-linejoin="round"/>
<path d="M5.12,988.05 L7.99,990.98 L12.30,993.91 L18.04,996.84 L25.21,998.30 L30.95,998.30 L38.13,996.84 L43.87,993.91 L48.17,990.98 L51.05,988.05" fill="none" stroke="#000000" stroke-width="5.0" stroke-linejoin="round"/>
<path d="M17.45,976.17 L16.07,973.10 L11.91,968.50 L41.00,968.50" fill="none" stroke="#000000" stroke-width="5.0" stroke-linejoin="round"/>
<path d="M11.91,944.16 L13.30,948.23 L17.45,950.94 L24.38,952.30 L28.54,952.30 L35.46,950.94 L39.62,948.23 L41.00,944.16 L41.00,941.44 L39.62,937.37 L35.46,934.66 L28.54,933.30 L24.38,933.30 L17.45,934.66 L13.30,937.37 L11.91,941.44 Z" fill="none" stroke="#000000" stroke-width="5.0" stroke-linejoin="round"/>
<line x1="12.00" y1="925.10" x2="12.00" y2="909.20" stroke="#000000" stroke-width="5.4" />
<path d="M1.86,895.73 L13.62,906.40 L13.62,890.40 M1.86,895.73 L19.50,895.73" fill="none" stroke="#000000" stroke-width="5.0" stroke-linejoin="round"/>
<path d="M5.12,885.64 L7.99,882.74 L12.30,879.85 L18.04,876.95 L25.21,875.50 L30.95,875.50 L38.13,876.95 L43.87,879.85 L48.17,882.74 L51.05,885.64" fill="none" stroke="#000000" stroke-width="5.0" stroke-linejoin="round"/>
</svg>
</body></html>
